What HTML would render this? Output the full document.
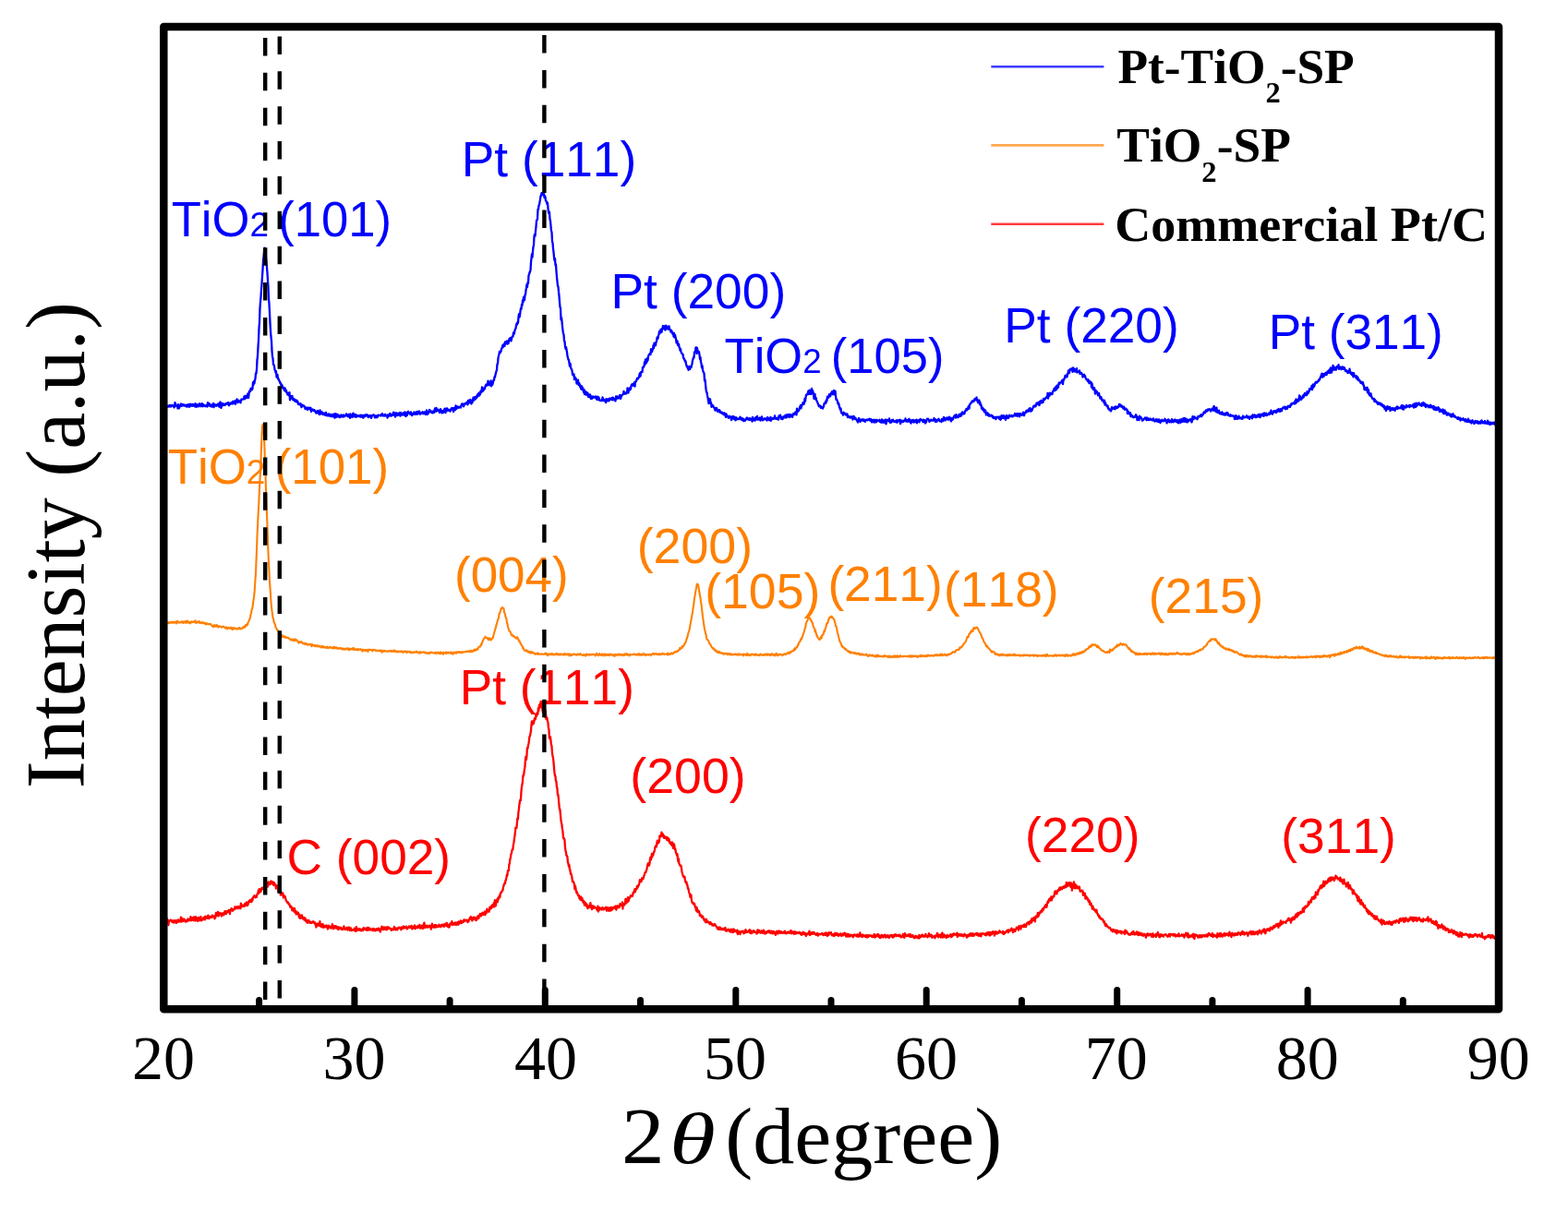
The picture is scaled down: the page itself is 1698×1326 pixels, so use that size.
<!DOCTYPE html>
<html><head><meta charset="utf-8"><title>XRD</title><style>html,body{margin:0;padding:0;background:#fff;width:1698px;height:1326px;overflow:hidden}</style></head><body>
<svg width="1698" height="1326" viewBox="0 0 1698 1326" style="display:block">
<rect width="1698" height="1326" fill="#fff"/>
<path d="M177.5,440.4 178.0,441.0 178.5,440.4 179.0,438.3 179.5,441.1 180.0,440.5 180.5,439.2 181.0,440.7 181.5,440.4 182.0,440.3 182.5,439.9 183.0,440.6 183.5,438.9 184.0,439.6 184.5,439.2 185.0,440.6 185.5,439.9 186.0,439.4 186.5,438.8 187.0,439.5 187.5,439.8 188.0,439.4 188.5,441.4 189.0,441.0 189.5,436.2 190.0,437.3 190.5,439.5 191.0,439.2 191.5,440.0 192.0,440.0 192.5,442.4 193.0,438.2 193.5,439.2 194.0,442.3 194.5,440.5 195.0,440.5 195.5,438.9 196.0,437.5 196.5,439.8 197.0,439.7 197.5,438.0 198.0,438.7 198.5,439.4 199.0,438.3 199.5,439.4 200.0,439.6 200.5,439.5 201.0,438.8 201.5,440.2 202.0,440.6 202.5,439.9 203.0,438.4 203.5,440.4 204.0,438.8 204.5,440.5 205.0,438.0 205.5,440.6 206.0,439.4 206.5,437.8 207.0,439.0 207.5,439.4 208.0,439.7 208.5,438.1 209.0,437.9 209.5,439.6 210.0,438.7 210.5,439.6 211.0,440.3 211.5,437.2 212.0,439.6 212.5,440.9 213.0,438.9 213.5,438.2 214.0,440.2 214.5,439.6 215.0,440.4 215.5,438.8 216.0,437.3 216.5,439.1 217.0,438.6 217.5,440.2 218.0,439.5 218.5,437.1 219.0,437.6 219.5,440.3 220.0,440.0 220.5,438.3 221.0,439.1 221.5,439.7 222.0,439.7 222.5,440.3 223.0,439.4 223.5,439.0 224.0,438.8 224.5,440.5 225.0,436.2 225.5,438.9 226.0,439.1 226.5,437.2 227.0,439.5 227.5,438.2 228.0,440.1 228.5,438.8 229.0,439.8 229.5,440.5 230.0,439.5 230.5,437.8 231.0,437.0 231.5,441.2 232.0,438.8 232.5,438.0 233.0,439.1 233.5,438.6 234.0,439.9 234.5,438.9 235.0,438.8 235.5,437.9 236.0,439.4 236.5,437.4 237.0,439.6 237.5,440.7 238.0,436.7 238.5,435.5 239.0,439.4 239.5,441.9 240.0,437.3 240.5,437.0 241.0,439.3 241.5,437.4 242.0,437.8 242.5,437.9 243.0,439.0 243.5,437.7 244.0,438.6 244.5,437.9 245.0,436.9 245.5,437.5 246.0,436.6 246.5,437.8 247.0,436.2 247.5,436.1 248.0,439.3 248.5,437.3 249.0,437.1 249.5,437.8 250.0,436.4 250.5,436.5 251.0,437.3 251.5,436.9 252.0,434.9 252.5,437.4 253.0,435.4 253.5,434.6 254.0,434.7 254.5,435.2 255.0,437.8 255.5,433.9 256.0,435.6 256.5,432.4 257.0,435.0 257.5,436.1 258.0,434.4 258.5,433.7 259.0,434.7 259.5,435.1 260.0,434.9 260.5,436.4 261.0,433.8 261.5,432.5 262.0,432.9 262.5,432.7 263.0,432.7 263.5,432.2 264.0,432.2 264.5,429.4 265.0,432.4 265.5,430.1 266.0,428.8 266.5,430.8 267.0,431.2 267.5,429.5 268.0,428.5 268.5,426.3 269.0,431.0 269.5,427.5 270.0,423.9 270.5,423.7 271.0,424.1 271.5,420.9 272.0,422.5 272.5,420.7 273.0,422.2 273.5,420.7 274.0,414.2 274.5,416.8 275.0,412.9 275.5,415.2 276.0,411.9 276.5,410.1 277.0,404.3 277.5,404.6 278.0,400.2 278.5,389.8 279.0,385.7 279.5,376.0 280.0,368.5 280.5,355.5 281.0,349.3 281.5,333.5 282.0,327.0 282.5,321.8 283.0,313.2 283.5,307.5 284.0,299.4 284.5,292.2 285.0,282.5 285.5,278.1 286.0,272.7 286.5,268.7 287.0,269.7 287.5,272.1 288.0,279.5 288.5,283.3 289.0,289.9 289.5,295.5 290.0,303.9 290.5,311.2 291.0,323.7 291.5,329.0 292.0,338.7 292.5,349.9 293.0,358.6 293.5,364.8 294.0,369.1 294.5,380.3 295.0,386.2 295.5,388.3 296.0,395.0 296.5,395.1 297.0,396.5 297.5,400.3 298.0,401.5 298.5,403.5 299.0,402.0 299.5,408.5 300.0,406.0 300.5,405.9 301.0,410.4 301.5,410.1 302.0,412.3 302.5,412.4 303.0,413.8 303.5,415.3 304.0,414.8 304.5,417.8 305.0,417.0 305.5,417.3 306.0,419.5 306.5,420.7 307.0,420.5 307.5,420.3 308.0,423.1 308.5,420.4 309.0,422.1 309.5,424.2 310.0,422.9 310.5,425.4 311.0,425.9 311.5,427.7 312.0,425.8 312.5,426.7 313.0,428.5 313.5,425.2 314.0,433.3 314.5,428.6 315.0,429.0 315.5,431.7 316.0,430.9 316.5,429.0 317.0,432.7 317.5,433.4 318.0,432.1 318.5,432.8 319.0,434.2 319.5,432.8 320.0,435.0 320.5,435.0 321.0,434.3 321.5,433.7 322.0,435.6 322.5,435.1 323.0,437.9 323.5,437.2 324.0,438.3 324.5,437.8 325.0,438.3 325.5,437.3 326.0,439.5 326.5,441.2 327.0,438.8 327.5,438.7 328.0,439.5 328.5,439.4 329.0,439.4 329.5,440.7 330.0,440.4 330.5,442.9 331.0,441.3 331.5,442.0 332.0,443.0 332.5,441.7 333.0,444.1 333.5,441.7 334.0,441.7 334.5,442.5 335.0,443.0 335.5,441.7 336.0,443.6 336.5,441.8 337.0,445.8 337.5,444.2 338.0,443.7 338.5,443.5 339.0,444.4 339.5,444.8 340.0,443.9 340.5,444.3 341.0,445.4 341.5,445.1 342.0,447.1 342.5,447.5 343.0,446.3 343.5,447.0 344.0,444.9 344.5,447.5 345.0,446.8 345.5,447.6 346.0,449.1 346.5,444.5 347.0,447.7 347.5,446.2 348.0,448.4 348.5,446.2 349.0,447.4 349.5,448.3 350.0,449.0 350.5,448.4 351.0,447.5 351.5,447.9 352.0,449.8 352.5,448.8 353.0,446.9 353.5,450.1 354.0,449.7 354.5,450.3 355.0,449.0 355.5,450.5 356.0,448.3 356.5,450.3 357.0,449.1 357.5,450.6 358.0,451.0 358.5,449.0 359.0,449.9 359.5,450.0 360.0,451.4 360.5,450.9 361.0,448.6 361.5,450.6 362.0,451.0 362.5,452.7 363.0,448.1 363.5,449.5 364.0,451.8 364.5,448.6 365.0,448.8 365.5,450.9 366.0,451.5 366.5,449.5 367.0,450.9 367.5,450.4 368.0,452.1 368.5,450.3 369.0,451.5 369.5,449.3 370.0,450.1 370.5,450.3 371.0,451.7 371.5,451.1 372.0,449.5 372.5,451.2 373.0,451.3 373.5,450.3 374.0,450.1 374.5,450.2 375.0,448.4 375.5,450.6 376.0,450.7 376.5,449.4 377.0,451.3 377.5,448.8 378.0,449.7 378.5,449.8 379.0,452.8 379.5,448.5 380.0,451.1 380.5,451.5 381.0,450.8 381.5,451.8 382.0,449.2 382.5,447.7 383.0,451.3 383.5,449.0 384.0,450.0 384.5,449.0 385.0,451.7 385.5,451.4 386.0,449.5 386.5,451.5 387.0,450.5 387.5,450.2 388.0,450.5 388.5,450.2 389.0,451.1 389.5,450.8 390.0,450.0 390.5,451.6 391.0,449.7 391.5,450.7 392.0,450.9 392.5,452.2 393.0,449.8 393.5,452.5 394.0,450.6 394.5,450.2 395.0,449.6 395.5,451.1 396.0,450.5 396.5,449.1 397.0,449.1 397.5,449.7 398.0,449.6 398.5,451.7 399.0,452.0 399.5,451.4 400.0,450.8 400.5,449.9 401.0,450.4 401.5,451.4 402.0,452.9 402.5,451.4 403.0,450.0 403.5,450.3 404.0,449.7 404.5,449.3 405.0,450.0 405.5,450.5 406.0,452.4 406.5,450.3 407.0,451.8 407.5,452.3 408.0,450.3 408.5,452.1 409.0,451.0 409.5,449.6 410.0,450.4 410.5,450.1 411.0,449.8 411.5,449.8 412.0,450.2 412.5,450.5 413.0,448.9 413.5,449.9 414.0,448.1 414.5,450.2 415.0,450.6 415.5,450.0 416.0,450.1 416.5,450.5 417.0,448.9 417.5,449.4 418.0,450.3 418.5,450.8 419.0,450.1 419.5,452.6 420.0,449.4 420.5,450.7 421.0,451.0 421.5,449.3 422.0,448.4 422.5,448.0 423.0,449.5 423.5,450.7 424.0,449.6 424.5,449.5 425.0,448.8 425.5,449.9 426.0,446.6 426.5,449.4 427.0,449.1 427.5,447.4 428.0,451.6 428.5,447.3 429.0,447.7 429.5,447.5 430.0,450.2 430.5,447.8 431.0,449.6 431.5,449.5 432.0,449.1 432.5,447.1 433.0,447.9 433.5,450.7 434.0,447.0 434.5,447.6 435.0,448.3 435.5,449.5 436.0,448.8 436.5,449.3 437.0,447.1 437.5,449.5 438.0,449.0 438.5,446.4 439.0,450.1 439.5,451.0 440.0,447.3 440.5,448.2 441.0,449.8 441.5,446.3 442.0,445.7 442.5,446.5 443.0,447.3 443.5,447.3 444.0,448.7 444.5,448.2 445.0,446.4 445.5,448.5 446.0,450.1 446.5,449.2 447.0,449.0 447.5,447.7 448.0,448.9 448.5,446.5 449.0,448.5 449.5,447.5 450.0,448.9 450.5,448.1 451.0,446.2 451.5,447.6 452.0,448.9 452.5,446.0 453.0,446.7 453.5,446.4 454.0,445.5 454.5,448.4 455.0,448.8 455.5,448.2 456.0,447.5 456.5,447.1 457.0,447.4 457.5,446.2 458.0,448.1 458.5,448.3 459.0,448.1 459.5,446.3 460.0,447.0 460.5,446.6 461.0,449.0 461.5,447.0 462.0,444.4 462.5,447.2 463.0,448.9 463.5,447.4 464.0,447.6 464.5,446.5 465.0,444.0 465.5,444.2 466.0,444.8 466.5,446.2 467.0,446.7 467.5,447.1 468.0,445.8 468.5,447.3 469.0,445.7 469.5,445.2 470.0,447.0 470.5,444.8 471.0,442.5 471.5,444.5 472.0,445.9 472.5,441.9 473.0,445.2 473.5,445.2 474.0,443.8 474.5,443.7 475.0,444.9 475.5,444.7 476.0,446.9 476.5,445.7 477.0,443.2 477.5,444.1 478.0,445.9 478.5,447.4 479.0,445.4 479.5,445.3 480.0,447.1 480.5,444.7 481.0,444.3 481.5,442.8 482.0,443.9 482.5,447.1 483.0,442.6 483.5,444.3 484.0,442.4 484.5,444.2 485.0,445.1 485.5,443.6 486.0,444.7 486.5,444.6 487.0,444.1 487.5,445.6 488.0,444.3 488.5,442.9 489.0,442.3 489.5,441.9 490.0,443.5 490.5,442.3 491.0,446.1 491.5,444.8 492.0,442.1 492.5,441.8 493.0,444.2 493.5,439.5 494.0,441.2 494.5,442.8 495.0,440.3 495.5,440.7 496.0,440.7 496.5,441.8 497.0,441.0 497.5,441.2 498.0,441.3 498.5,440.4 499.0,441.6 499.5,439.0 500.0,437.9 500.5,437.3 501.0,437.3 501.5,438.5 502.0,440.3 502.5,439.0 503.0,437.8 503.5,437.0 504.0,437.5 504.5,437.4 505.0,437.0 505.5,435.7 506.0,436.7 506.5,438.4 507.0,434.0 507.5,436.3 508.0,433.6 508.5,436.4 509.0,434.9 509.5,432.9 510.0,435.5 510.5,437.5 511.0,434.9 511.5,435.9 512.0,433.9 512.5,430.7 513.0,433.8 513.5,432.1 514.0,430.2 514.5,432.7 515.0,431.5 515.5,429.9 516.0,431.2 516.5,428.3 517.0,429.8 517.5,427.0 518.0,428.5 518.5,425.6 519.0,428.7 519.5,426.4 520.0,427.4 520.5,423.7 521.0,423.6 521.5,424.9 522.0,419.3 522.5,421.1 523.0,423.6 523.5,422.2 524.0,422.5 524.5,420.2 525.0,421.0 525.5,418.7 526.0,417.4 526.5,416.5 527.0,417.8 527.5,417.5 528.0,417.1 528.5,412.6 529.0,414.5 529.5,416.4 530.0,417.3 530.5,415.7 531.0,414.9 531.5,412.4 532.0,418.4 532.5,413.4 533.0,417.0 533.5,416.3 534.0,413.8 534.5,411.8 535.0,411.8 535.5,408.3 536.0,408.5 536.5,405.8 537.0,404.2 537.5,402.1 538.0,400.6 538.5,394.4 539.0,393.9 539.5,388.2 540.0,385.4 540.5,383.5 541.0,380.8 541.5,382.4 542.0,381.0 542.5,380.7 543.0,377.7 543.5,377.5 544.0,375.4 544.5,373.8 545.0,376.0 545.5,375.2 546.0,372.4 546.5,374.8 547.0,370.3 547.5,372.5 548.0,371.2 548.5,370.9 549.0,369.4 549.5,372.5 550.0,371.4 550.5,372.1 551.0,369.8 551.5,366.9 552.0,368.1 552.5,366.2 553.0,368.5 553.5,369.3 554.0,367.1 554.5,364.8 555.0,364.4 555.5,364.5 556.0,360.4 556.5,362.0 557.0,360.7 557.5,357.9 558.0,356.5 558.5,355.9 559.0,352.3 559.5,350.6 560.0,351.8 560.5,349.0 561.0,350.0 561.5,343.3 562.0,340.1 562.5,343.6 563.0,342.0 563.5,337.1 564.0,333.9 564.5,335.0 565.0,329.9 565.5,330.9 566.0,325.4 566.5,327.4 567.0,321.8 567.5,323.6 568.0,325.1 568.5,319.5 569.0,319.5 569.5,314.5 570.0,311.7 570.5,308.2 571.0,311.0 571.5,306.1 572.0,307.0 572.5,298.3 573.0,297.4 573.5,295.1 574.0,294.8 574.5,292.6 575.0,284.1 575.5,279.8 576.0,275.2 576.5,278.6 577.0,272.2 577.5,267.6 578.0,265.4 578.5,255.9 579.0,253.8 579.5,255.7 580.0,250.3 580.5,245.6 581.0,238.8 581.5,238.5 582.0,237.5 582.5,226.8 583.0,226.5 583.5,222.5 584.0,221.9 584.5,218.8 585.0,216.1 585.5,212.1 586.0,212.3 586.5,209.2 587.0,209.3 587.5,209.1 588.0,211.0 588.5,208.5 589.0,209.8 589.5,214.2 590.0,212.2 590.5,213.5 591.0,217.7 591.5,217.9 592.0,219.1 592.5,221.2 593.0,219.5 593.5,225.6 594.0,230.2 594.5,231.4 595.0,229.7 595.5,237.8 596.0,239.0 596.5,244.8 597.0,250.0 597.5,251.5 598.0,261.7 598.5,263.0 599.0,269.3 599.5,273.1 600.0,278.6 600.5,282.2 601.0,280.2 601.5,287.4 602.0,286.6 602.5,294.1 603.0,300.5 603.5,304.9 604.0,309.8 604.5,310.5 605.0,316.2 605.5,320.3 606.0,327.3 606.5,332.7 607.0,333.8 607.5,346.5 608.0,343.9 608.5,347.8 609.0,353.8 609.5,358.1 610.0,361.3 610.5,362.4 611.0,369.3 611.5,369.8 612.0,375.3 612.5,377.9 613.0,376.0 613.5,379.1 614.0,381.4 614.5,385.8 615.0,387.6 615.5,389.8 616.0,389.8 616.5,393.5 617.0,396.7 617.5,393.9 618.0,397.2 618.5,399.4 619.0,400.2 619.5,401.4 620.0,405.8 620.5,406.3 621.0,406.8 621.5,405.4 622.0,411.1 622.5,409.3 623.0,408.9 623.5,410.2 624.0,410.9 624.5,415.7 625.0,413.6 625.5,414.2 626.0,411.7 626.5,416.8 627.0,414.9 627.5,415.6 628.0,418.9 628.5,417.5 629.0,420.7 629.5,421.8 630.0,418.3 630.5,421.4 631.0,420.0 631.5,422.8 632.0,424.8 632.5,422.1 633.0,427.2 633.5,424.7 634.0,424.0 634.5,426.0 635.0,427.7 635.5,425.1 636.0,427.4 636.5,425.9 637.0,429.8 637.5,428.6 638.0,428.1 638.5,430.3 639.0,427.4 639.5,428.8 640.0,432.1 640.5,429.6 641.0,431.8 641.5,430.4 642.0,429.4 642.5,430.2 643.0,430.8 643.5,430.3 644.0,430.0 644.5,430.2 645.0,429.4 645.5,431.7 646.0,432.3 646.5,432.9 647.0,429.6 647.5,433.2 648.0,432.3 648.5,430.5 649.0,432.7 649.5,433.8 650.0,433.5 650.5,433.8 651.0,434.2 651.5,434.2 652.0,433.1 652.5,430.4 653.0,432.2 653.5,433.8 654.0,432.7 654.5,434.3 655.0,434.5 655.5,433.5 656.0,436.0 656.5,432.2 657.0,434.7 657.5,432.8 658.0,432.4 658.5,434.2 659.0,432.5 659.5,434.4 660.0,431.6 660.5,433.1 661.0,431.8 661.5,432.5 662.0,432.2 662.5,431.1 663.0,433.3 663.5,430.6 664.0,430.8 664.5,433.2 665.0,433.2 665.5,432.6 666.0,431.9 666.5,434.4 667.0,429.5 667.5,429.9 668.0,429.4 668.5,431.7 669.0,430.7 669.5,431.6 670.0,431.2 670.5,429.4 671.0,428.3 671.5,427.9 672.0,432.1 672.5,430.1 673.0,429.4 673.5,427.8 674.0,427.8 674.5,427.3 675.0,427.0 675.5,423.8 676.0,426.7 676.5,425.9 677.0,426.5 677.5,426.0 678.0,426.5 678.5,424.8 679.0,425.6 679.5,420.4 680.0,422.0 680.5,425.5 681.0,420.9 681.5,421.7 682.0,422.6 682.5,419.9 683.0,421.7 683.5,418.0 684.0,416.8 684.5,417.1 685.0,416.0 685.5,417.7 686.0,416.6 686.5,416.8 687.0,414.1 687.5,418.6 688.0,413.9 688.5,413.2 689.0,413.1 689.5,411.2 690.0,409.8 690.5,410.0 691.0,410.4 691.5,409.1 692.0,408.6 692.5,405.4 693.0,404.2 693.5,407.6 694.0,403.2 694.5,403.4 695.0,402.9 695.5,403.1 696.0,397.8 696.5,398.2 697.0,397.4 697.5,396.6 698.0,392.2 698.5,394.9 699.0,389.4 699.5,393.5 700.0,392.9 700.5,391.9 701.0,387.9 701.5,390.4 702.0,386.4 702.5,384.7 703.0,384.1 703.5,383.3 704.0,383.9 704.5,384.0 705.0,378.1 705.5,379.7 706.0,381.2 706.5,379.0 707.0,378.6 707.5,374.1 708.0,377.2 708.5,371.7 709.0,373.5 709.5,374.4 710.0,374.1 710.5,370.5 711.0,369.9 711.5,366.1 712.0,365.1 712.5,366.9 713.0,363.6 713.5,362.3 714.0,358.9 714.5,360.7 715.0,360.6 715.5,357.0 716.0,356.7 716.5,359.8 717.0,356.5 717.5,355.1 718.0,353.0 718.5,353.6 719.0,353.9 719.5,356.8 720.0,353.1 720.5,357.5 721.0,352.6 721.5,353.8 722.0,356.3 722.5,354.5 723.0,353.8 723.5,355.4 724.0,356.8 724.5,353.3 725.0,356.4 725.5,357.1 726.0,357.1 726.5,359.7 727.0,357.9 727.5,358.8 728.0,360.1 728.5,361.9 729.0,360.7 729.5,364.5 730.0,360.9 730.5,365.7 731.0,362.8 731.5,365.1 732.0,367.2 732.5,371.3 733.0,370.5 733.5,369.5 734.0,373.8 734.5,372.4 735.0,372.7 735.5,376.2 736.0,376.8 736.5,379.6 737.0,378.2 737.5,381.0 738.0,382.5 738.5,383.0 739.0,383.6 739.5,383.8 740.0,387.8 740.5,387.8 741.0,389.7 741.5,389.7 742.0,391.6 742.5,391.2 743.0,394.2 743.5,396.4 744.0,396.4 744.5,398.5 745.0,398.4 745.5,400.8 746.0,398.8 746.5,396.8 747.0,400.2 747.5,398.9 748.0,396.8 748.5,398.0 749.0,395.7 749.5,394.0 750.0,390.5 750.5,389.2 751.0,387.1 751.5,387.5 752.0,381.5 752.5,381.0 753.0,380.5 753.5,376.3 754.0,376.4 754.5,383.1 755.0,377.0 755.5,381.8 756.0,380.4 756.5,381.8 757.0,381.2 757.5,384.6 758.0,389.1 758.5,387.2 759.0,392.3 759.5,393.7 760.0,398.3 760.5,396.1 761.0,400.8 761.5,402.6 762.0,403.5 762.5,404.4 763.0,412.4 763.5,411.4 764.0,416.1 764.5,421.4 765.0,424.8 765.5,425.0 766.0,428.7 766.5,430.5 767.0,434.2 767.5,437.0 768.0,432.1 768.5,436.6 769.0,432.4 769.5,437.0 770.0,436.2 770.5,440.9 771.0,439.2 771.5,438.7 772.0,439.5 772.5,440.0 773.0,441.5 773.5,441.6 774.0,443.1 774.5,444.6 775.0,444.0 775.5,442.0 776.0,441.9 776.5,443.3 777.0,445.9 777.5,444.5 778.0,444.4 778.5,445.8 779.0,444.1 779.5,444.8 780.0,447.1 780.5,446.4 781.0,446.4 781.5,447.7 782.0,446.8 782.5,447.0 783.0,447.5 783.5,449.1 784.0,448.7 784.5,447.4 785.0,448.8 785.5,450.2 786.0,451.9 786.5,448.5 787.0,450.5 787.5,450.1 788.0,451.6 788.5,451.4 789.0,452.8 789.5,451.9 790.0,450.8 790.5,451.0 791.0,452.4 791.5,452.5 792.0,455.1 792.5,454.4 793.0,451.2 793.5,453.2 794.0,451.3 794.5,451.1 795.0,454.0 795.5,453.9 796.0,452.2 796.5,455.4 797.0,452.4 797.5,452.3 798.0,454.4 798.5,454.0 799.0,453.6 799.5,453.7 800.0,454.1 800.5,453.6 801.0,453.6 801.5,451.6 802.0,452.2 802.5,454.5 803.0,453.0 803.5,454.4 804.0,455.2 804.5,453.4 805.0,454.1 805.5,456.2 806.0,454.6 806.5,455.9 807.0,455.6 807.5,454.7 808.0,453.7 808.5,452.8 809.0,452.5 809.5,454.3 810.0,454.3 810.5,453.6 811.0,454.7 811.5,453.1 812.0,455.0 812.5,453.8 813.0,453.7 813.5,453.7 814.0,453.6 814.5,456.6 815.0,451.9 815.5,453.9 816.0,455.2 816.5,454.6 817.0,453.4 817.5,455.7 818.0,452.5 818.5,452.2 819.0,454.4 819.5,452.0 820.0,450.9 820.5,454.7 821.0,454.6 821.5,454.5 822.0,453.1 822.5,453.9 823.0,452.5 823.5,455.6 824.0,454.5 824.5,454.5 825.0,451.4 825.5,454.5 826.0,455.3 826.5,455.0 827.0,454.5 827.5,453.6 828.0,453.2 828.5,454.3 829.0,454.0 829.5,453.8 830.0,453.2 830.5,455.5 831.0,452.2 831.5,453.5 832.0,452.8 832.5,454.7 833.0,455.1 833.5,454.9 834.0,454.3 834.5,451.8 835.0,455.8 835.5,454.0 836.0,453.3 836.5,453.4 837.0,453.0 837.5,453.9 838.0,453.7 838.5,452.9 839.0,450.3 839.5,453.2 840.0,453.8 840.5,453.8 841.0,452.9 841.5,453.6 842.0,454.2 842.5,452.4 843.0,454.6 843.5,450.5 844.0,451.3 844.5,451.6 845.0,449.7 845.5,451.3 846.0,453.9 846.5,453.8 847.0,452.3 847.5,454.1 848.0,452.3 848.5,451.3 849.0,452.1 849.5,451.5 850.0,452.4 850.5,449.7 851.0,452.5 851.5,450.6 852.0,452.1 852.5,449.1 853.0,450.3 853.5,450.7 854.0,451.5 854.5,448.9 855.0,452.2 855.5,450.6 856.0,449.2 856.5,451.1 857.0,449.6 857.5,450.7 858.0,451.9 858.5,449.9 859.0,448.1 859.5,448.1 860.0,449.0 860.5,448.4 861.0,446.7 861.5,446.5 862.0,447.7 862.5,449.3 863.0,442.7 863.5,446.4 864.0,444.7 864.5,445.3 865.0,444.9 865.5,443.3 866.0,441.3 866.5,440.2 867.0,438.9 867.5,442.3 868.0,439.8 868.5,438.7 869.0,438.4 869.5,436.2 870.0,437.5 870.5,437.8 871.0,436.5 871.5,431.8 872.0,434.6 872.5,430.6 873.0,427.9 873.5,427.7 874.0,427.0 874.5,427.3 875.0,424.9 875.5,423.4 876.0,424.4 876.5,426.9 877.0,422.7 877.5,424.1 878.0,423.4 878.5,427.2 879.0,421.0 879.5,425.7 880.0,423.0 880.5,424.7 881.0,426.3 881.5,431.8 882.0,427.4 882.5,427.0 883.0,432.5 883.5,430.8 884.0,432.8 884.5,434.2 885.0,435.5 885.5,436.3 886.0,437.9 886.5,439.0 887.0,440.4 887.5,439.4 888.0,439.6 888.5,439.6 889.0,441.9 889.5,441.1 890.0,441.8 890.5,441.5 891.0,442.6 891.5,440.3 892.0,440.4 892.5,437.3 893.0,436.7 893.5,437.0 894.0,435.0 894.5,436.6 895.0,433.1 895.5,434.0 896.0,429.7 896.5,430.6 897.0,430.8 897.5,430.0 898.0,427.1 898.5,428.9 899.0,429.3 899.5,428.2 900.0,425.8 900.5,425.4 901.0,424.1 901.5,426.3 902.0,427.3 902.5,424.5 903.0,423.0 903.5,426.1 904.0,427.5 904.5,423.7 905.0,428.8 905.5,432.9 906.0,432.5 906.5,433.7 907.0,435.1 907.5,437.6 908.0,436.6 908.5,438.3 909.0,441.5 909.5,441.5 910.0,444.0 910.5,442.5 911.0,446.7 911.5,447.6 912.0,447.0 912.5,447.5 913.0,449.7 913.5,446.7 914.0,447.3 914.5,447.4 915.0,448.5 915.5,448.1 916.0,449.6 916.5,449.1 917.0,448.4 917.5,448.6 918.0,452.1 918.5,450.8 919.0,450.9 919.5,451.4 920.0,451.5 920.5,452.7 921.0,452.7 921.5,451.5 922.0,451.4 922.5,451.3 923.0,451.3 923.5,454.5 924.0,452.0 924.5,450.9 925.0,452.4 925.5,452.6 926.0,454.0 926.5,452.7 927.0,454.4 927.5,454.4 928.0,455.5 928.5,456.6 929.0,457.5 929.5,455.8 930.0,453.0 930.5,453.9 931.0,454.7 931.5,456.8 932.0,455.3 932.5,455.9 933.0,454.4 933.5,455.3 934.0,455.5 934.5,454.2 935.0,455.7 935.5,456.1 936.0,454.7 936.5,456.1 937.0,456.8 937.5,455.1 938.0,455.0 938.5,454.7 939.0,454.4 939.5,455.3 940.0,454.7 940.5,454.9 941.0,454.4 941.5,453.6 942.0,454.3 942.5,455.8 943.0,454.1 943.5,454.7 944.0,457.4 944.5,456.8 945.0,454.8 945.5,456.3 946.0,454.9 946.5,457.5 947.0,455.0 947.5,455.8 948.0,457.3 948.5,454.8 949.0,457.3 949.5,454.9 950.0,456.1 950.5,455.5 951.0,455.8 951.5,456.1 952.0,455.8 952.5,454.8 953.0,457.0 953.5,456.8 954.0,457.5 954.5,457.6 955.0,454.5 955.5,457.5 956.0,457.6 956.5,455.5 957.0,457.3 957.5,457.8 958.0,455.5 958.5,454.6 959.0,455.8 959.5,459.3 960.0,456.5 960.5,454.8 961.0,455.9 961.5,455.1 962.0,455.8 962.5,456.4 963.0,453.4 963.5,456.7 964.0,457.9 964.5,456.1 965.0,455.8 965.5,457.5 966.0,454.9 966.5,454.9 967.0,454.7 967.5,456.1 968.0,456.7 968.5,456.2 969.0,456.9 969.5,457.2 970.0,456.9 970.5,455.4 971.0,456.0 971.5,457.7 972.0,455.1 972.5,456.0 973.0,455.8 973.5,456.1 974.0,455.1 974.5,454.8 975.0,459.2 975.5,457.3 976.0,455.5 976.5,456.2 977.0,457.0 977.5,455.9 978.0,457.0 978.5,455.6 979.0,455.8 979.5,456.1 980.0,455.7 980.5,453.4 981.0,456.2 981.5,456.5 982.0,456.7 982.5,455.1 983.0,456.6 983.5,456.4 984.0,454.2 984.5,453.7 985.0,456.7 985.5,455.1 986.0,457.3 986.5,458.6 987.0,455.5 987.5,455.3 988.0,456.1 988.5,456.8 989.0,454.8 989.5,457.5 990.0,457.2 990.5,456.8 991.0,455.4 991.5,457.1 992.0,457.0 992.5,454.6 993.0,458.3 993.5,455.6 994.0,456.4 994.5,455.3 995.0,456.4 995.5,457.2 996.0,455.0 996.5,454.0 997.0,455.3 997.5,454.4 998.0,455.0 998.5,455.7 999.0,455.7 999.5,457.2 1000.0,454.6 1000.5,456.1 1001.0,455.1 1001.5,457.2 1002.0,458.5 1002.5,456.0 1003.0,457.5 1003.5,455.0 1004.0,453.8 1004.5,454.1 1005.0,453.7 1005.5,454.4 1006.0,455.2 1006.5,456.8 1007.0,456.3 1007.5,456.0 1008.0,454.9 1008.5,454.6 1009.0,455.4 1009.5,455.5 1010.0,455.6 1010.5,455.7 1011.0,455.1 1011.5,453.0 1012.0,453.9 1012.5,454.2 1013.0,457.1 1013.5,454.6 1014.0,455.9 1014.5,456.7 1015.0,455.4 1015.5,454.6 1016.0,454.7 1016.5,453.8 1017.0,455.3 1017.5,456.2 1018.0,455.5 1018.5,455.7 1019.0,455.6 1019.5,457.1 1020.0,454.0 1020.5,454.9 1021.0,455.5 1021.5,456.1 1022.0,451.8 1022.5,454.0 1023.0,454.3 1023.5,453.3 1024.0,455.4 1024.5,454.7 1025.0,453.9 1025.5,452.5 1026.0,452.8 1026.5,453.1 1027.0,454.7 1027.5,452.7 1028.0,451.6 1028.5,452.2 1029.0,453.1 1029.5,455.6 1030.0,456.4 1030.5,452.8 1031.0,454.3 1031.5,454.7 1032.0,454.3 1032.5,452.5 1033.0,451.0 1033.5,451.7 1034.0,449.9 1034.5,452.2 1035.0,452.6 1035.5,449.2 1036.0,451.1 1036.5,451.3 1037.0,452.2 1037.5,452.1 1038.0,451.2 1038.5,449.1 1039.0,449.2 1039.5,450.9 1040.0,448.4 1040.5,448.8 1041.0,450.5 1041.5,448.5 1042.0,446.4 1042.5,447.4 1043.0,448.2 1043.5,446.9 1044.0,448.3 1044.5,448.1 1045.0,445.3 1045.5,445.0 1046.0,444.9 1046.5,442.9 1047.0,444.3 1047.5,442.9 1048.0,443.4 1048.5,441.0 1049.0,439.9 1049.5,442.6 1050.0,438.4 1050.5,438.0 1051.0,437.1 1051.5,436.9 1052.0,435.4 1052.5,435.9 1053.0,434.4 1053.5,434.2 1054.0,434.8 1054.5,434.8 1055.0,434.1 1055.5,432.1 1056.0,433.4 1056.5,432.6 1057.0,432.6 1057.5,430.5 1058.0,433.9 1058.5,433.2 1059.0,436.1 1059.5,435.2 1060.0,433.5 1060.5,433.9 1061.0,438.1 1061.5,436.2 1062.0,439.1 1062.5,438.7 1063.0,442.7 1063.5,441.0 1064.0,443.6 1064.5,444.2 1065.0,442.7 1065.5,443.5 1066.0,446.4 1066.5,445.0 1067.0,444.4 1067.5,447.4 1068.0,449.5 1068.5,446.8 1069.0,449.0 1069.5,447.6 1070.0,449.9 1070.5,448.4 1071.0,450.7 1071.5,450.2 1072.0,449.7 1072.5,450.6 1073.0,450.0 1073.5,449.7 1074.0,450.1 1074.5,451.5 1075.0,450.6 1075.5,452.6 1076.0,452.9 1076.5,453.0 1077.0,451.9 1077.5,452.6 1078.0,452.5 1078.5,454.1 1079.0,451.6 1079.5,452.1 1080.0,452.3 1080.5,452.4 1081.0,451.6 1081.5,451.7 1082.0,453.6 1082.5,451.7 1083.0,453.5 1083.5,454.7 1084.0,453.8 1084.5,450.2 1085.0,453.1 1085.5,452.7 1086.0,452.8 1086.5,450.2 1087.0,452.9 1087.5,450.7 1088.0,453.4 1088.5,453.1 1089.0,454.8 1089.5,451.3 1090.0,449.9 1090.5,452.8 1091.0,452.5 1091.5,451.0 1092.0,453.0 1092.5,452.1 1093.0,449.7 1093.5,450.7 1094.0,450.5 1094.5,450.9 1095.0,451.1 1095.5,450.0 1096.0,450.5 1096.5,451.4 1097.0,450.5 1097.5,450.2 1098.0,450.0 1098.5,450.2 1099.0,448.0 1099.5,450.3 1100.0,448.8 1100.5,450.1 1101.0,448.1 1101.5,450.9 1102.0,450.0 1102.5,448.0 1103.0,449.7 1103.5,448.4 1104.0,451.4 1104.5,449.7 1105.0,448.0 1105.5,449.1 1106.0,448.6 1106.5,449.9 1107.0,448.8 1107.5,448.8 1108.0,446.6 1108.5,448.8 1109.0,450.2 1109.5,448.2 1110.0,447.1 1110.5,447.1 1111.0,445.5 1111.5,446.6 1112.0,444.7 1112.5,445.8 1113.0,445.0 1113.5,444.1 1114.0,445.5 1114.5,442.6 1115.0,444.1 1115.5,442.1 1116.0,445.7 1116.5,445.5 1117.0,443.7 1117.5,444.7 1118.0,442.7 1118.5,442.2 1119.0,440.6 1119.5,439.7 1120.0,440.6 1120.5,439.4 1121.0,439.2 1121.5,440.3 1122.0,438.9 1122.5,436.7 1123.0,438.1 1123.5,437.0 1124.0,437.3 1124.5,435.9 1125.0,438.5 1125.5,439.1 1126.0,434.8 1126.5,436.8 1127.0,436.4 1127.5,433.8 1128.0,435.0 1128.5,436.4 1129.0,435.3 1129.5,435.9 1130.0,431.8 1130.5,432.0 1131.0,433.0 1131.5,432.7 1132.0,431.9 1132.5,430.9 1133.0,430.5 1133.5,429.8 1134.0,430.9 1134.5,426.0 1135.0,431.6 1135.5,428.2 1136.0,426.5 1136.5,428.8 1137.0,425.7 1137.5,427.7 1138.0,426.1 1138.5,427.0 1139.0,426.8 1139.5,427.0 1140.0,423.9 1140.5,423.7 1141.0,423.5 1141.5,421.0 1142.0,423.3 1142.5,422.0 1143.0,419.4 1143.5,422.4 1144.0,422.1 1144.5,417.6 1145.0,419.8 1145.5,420.2 1146.0,419.0 1146.5,415.7 1147.0,414.5 1147.5,415.8 1148.0,414.6 1148.5,414.7 1149.0,414.0 1149.5,414.3 1150.0,412.1 1150.5,412.1 1151.0,416.2 1151.5,411.0 1152.0,411.7 1152.5,410.3 1153.0,409.5 1153.5,407.0 1154.0,408.5 1154.5,406.8 1155.0,407.3 1155.5,408.4 1156.0,404.8 1156.5,404.9 1157.0,401.4 1157.5,402.5 1158.0,404.1 1158.5,401.0 1159.0,399.7 1159.5,400.6 1160.0,399.7 1160.5,399.4 1161.0,399.1 1161.5,402.9 1162.0,398.4 1162.5,399.3 1163.0,399.1 1163.5,402.2 1164.0,400.0 1164.5,402.7 1165.0,401.1 1165.5,401.1 1166.0,399.1 1166.5,403.6 1167.0,402.9 1167.5,403.0 1168.0,402.5 1168.5,402.4 1169.0,401.4 1169.5,405.2 1170.0,404.5 1170.5,403.9 1171.0,403.8 1171.5,405.3 1172.0,405.4 1172.5,408.5 1173.0,407.7 1173.5,406.0 1174.0,405.8 1174.5,407.6 1175.0,407.1 1175.5,409.2 1176.0,410.3 1176.5,411.2 1177.0,411.5 1177.5,411.2 1178.0,413.0 1178.5,411.3 1179.0,413.2 1179.5,415.1 1180.0,415.0 1180.5,413.3 1181.0,414.1 1181.5,414.0 1182.0,419.6 1182.5,415.3 1183.0,418.0 1183.5,421.5 1184.0,421.1 1184.5,422.1 1185.0,420.1 1185.5,422.6 1186.0,426.6 1186.5,422.8 1187.0,424.2 1187.5,423.8 1188.0,425.0 1188.5,426.2 1189.0,428.3 1189.5,425.8 1190.0,425.8 1190.5,428.5 1191.0,429.4 1191.5,431.7 1192.0,431.4 1192.5,430.2 1193.0,432.5 1193.5,433.9 1194.0,433.5 1194.5,433.4 1195.0,435.5 1195.5,434.9 1196.0,433.7 1196.5,438.7 1197.0,436.1 1197.5,438.1 1198.0,438.9 1198.5,439.6 1199.0,440.3 1199.5,439.4 1200.0,442.5 1200.5,442.3 1201.0,442.7 1201.5,444.3 1202.0,444.5 1202.5,444.8 1203.0,445.4 1203.5,443.6 1204.0,441.1 1204.5,443.2 1205.0,442.8 1205.5,442.7 1206.0,441.7 1206.5,441.2 1207.0,443.2 1207.5,443.2 1208.0,440.4 1208.5,442.3 1209.0,441.2 1209.5,440.7 1210.0,441.9 1210.5,440.8 1211.0,440.1 1211.5,440.7 1212.0,438.0 1212.5,439.7 1213.0,439.8 1213.5,438.5 1214.0,440.6 1214.5,440.7 1215.0,439.8 1215.5,440.5 1216.0,441.8 1216.5,442.6 1217.0,440.7 1217.5,442.5 1218.0,443.8 1218.5,442.9 1219.0,442.5 1219.5,443.0 1220.0,444.1 1220.5,443.7 1221.0,448.0 1221.5,445.4 1222.0,447.1 1222.5,447.4 1223.0,448.4 1223.5,447.7 1224.0,447.1 1224.5,451.0 1225.0,449.4 1225.5,450.0 1226.0,450.4 1226.5,451.9 1227.0,451.5 1227.5,452.2 1228.0,451.9 1228.5,451.3 1229.0,451.6 1229.5,450.6 1230.0,449.3 1230.5,451.5 1231.0,450.6 1231.5,455.1 1232.0,454.0 1232.5,453.7 1233.0,451.8 1233.5,455.0 1234.0,450.7 1234.5,451.5 1235.0,452.1 1235.5,452.0 1236.0,453.4 1236.5,453.6 1237.0,455.7 1237.5,454.7 1238.0,455.1 1238.5,454.3 1239.0,453.7 1239.5,453.2 1240.0,452.4 1240.5,453.2 1241.0,453.8 1241.5,455.2 1242.0,452.5 1242.5,453.0 1243.0,454.9 1243.5,453.5 1244.0,455.1 1244.5,454.3 1245.0,454.0 1245.5,453.4 1246.0,454.9 1246.5,454.2 1247.0,454.4 1247.5,454.4 1248.0,455.4 1248.5,455.4 1249.0,453.3 1249.5,455.1 1250.0,455.8 1250.5,456.5 1251.0,456.3 1251.5,455.7 1252.0,454.1 1252.5,454.6 1253.0,456.5 1253.5,454.7 1254.0,456.7 1254.5,457.0 1255.0,454.4 1255.5,456.1 1256.0,455.5 1256.5,458.0 1257.0,456.7 1257.5,455.2 1258.0,456.2 1258.5,454.8 1259.0,455.6 1259.5,456.1 1260.0,456.0 1260.5,456.2 1261.0,454.9 1261.5,453.8 1262.0,455.5 1262.5,455.0 1263.0,455.2 1263.5,458.4 1264.0,457.3 1264.5,455.8 1265.0,454.4 1265.5,454.6 1266.0,456.5 1266.5,457.3 1267.0,455.8 1267.5,456.3 1268.0,456.4 1268.5,457.4 1269.0,454.1 1269.5,456.4 1270.0,456.7 1270.5,457.3 1271.0,456.7 1271.5,455.0 1272.0,455.6 1272.5,454.5 1273.0,456.5 1273.5,456.5 1274.0,456.9 1274.5,455.2 1275.0,455.0 1275.5,458.0 1276.0,456.5 1276.5,458.3 1277.0,456.8 1277.5,454.6 1278.0,457.2 1278.5,457.7 1279.0,455.8 1279.5,454.1 1280.0,457.0 1280.5,456.0 1281.0,456.5 1281.5,453.1 1282.0,456.6 1282.5,452.9 1283.0,454.9 1283.5,456.9 1284.0,453.7 1284.5,453.6 1285.0,455.1 1285.5,457.4 1286.0,457.3 1286.5,454.6 1287.0,456.3 1287.5,455.7 1288.0,455.3 1288.5,455.3 1289.0,453.9 1289.5,455.5 1290.0,455.7 1290.5,457.4 1291.0,455.3 1291.5,451.2 1292.0,452.5 1292.5,454.2 1293.0,453.7 1293.5,451.3 1294.0,453.2 1294.5,452.8 1295.0,453.0 1295.5,452.7 1296.0,453.8 1296.5,454.3 1297.0,453.2 1297.5,450.9 1298.0,450.9 1298.5,450.9 1299.0,451.3 1299.5,450.6 1300.0,450.3 1300.5,449.2 1301.0,451.1 1301.5,450.6 1302.0,450.3 1302.5,448.6 1303.0,448.8 1303.5,446.7 1304.0,446.2 1304.5,446.3 1305.0,447.3 1305.5,446.0 1306.0,444.4 1306.5,445.5 1307.0,445.5 1307.5,444.9 1308.0,443.5 1308.5,444.2 1309.0,443.3 1309.5,443.2 1310.0,443.3 1310.5,444.2 1311.0,445.5 1311.5,445.1 1312.0,443.9 1312.5,442.6 1313.0,442.8 1313.5,442.9 1314.0,444.8 1314.5,440.0 1315.0,443.9 1315.5,441.3 1316.0,444.0 1316.5,445.8 1317.0,443.2 1317.5,441.7 1318.0,446.4 1318.5,446.9 1319.0,445.9 1319.5,447.0 1320.0,444.7 1320.5,447.4 1321.0,448.3 1321.5,447.2 1322.0,447.0 1322.5,448.4 1323.0,448.5 1323.5,446.4 1324.0,449.1 1324.5,448.5 1325.0,448.0 1325.5,449.5 1326.0,449.2 1326.5,449.2 1327.0,447.8 1327.5,449.6 1328.0,447.4 1328.5,448.8 1329.0,447.0 1329.5,447.2 1330.0,449.9 1330.5,449.5 1331.0,449.8 1331.5,450.6 1332.0,450.5 1332.5,449.2 1333.0,450.5 1333.5,450.5 1334.0,450.1 1334.5,450.7 1335.0,450.6 1335.5,450.4 1336.0,450.9 1336.5,451.7 1337.0,454.0 1337.5,450.7 1338.0,452.4 1338.5,450.2 1339.0,453.9 1339.5,451.7 1340.0,452.3 1340.5,453.7 1341.0,453.5 1341.5,450.6 1342.0,453.1 1342.5,452.2 1343.0,453.2 1343.5,452.7 1344.0,453.4 1344.5,452.8 1345.0,452.3 1345.5,453.9 1346.0,450.7 1346.5,451.9 1347.0,451.3 1347.5,452.2 1348.0,451.9 1348.5,452.2 1349.0,451.7 1349.5,451.7 1350.0,450.3 1350.5,452.2 1351.0,452.5 1351.5,451.4 1352.0,451.3 1352.5,451.3 1353.0,453.9 1353.5,452.1 1354.0,452.3 1354.5,451.4 1355.0,451.1 1355.5,450.6 1356.0,453.4 1356.5,449.5 1357.0,451.8 1357.5,451.4 1358.0,451.0 1358.5,449.4 1359.0,449.7 1359.5,452.2 1360.0,450.2 1360.5,452.0 1361.0,451.6 1361.5,451.4 1362.0,451.6 1362.5,449.1 1363.0,449.9 1363.5,451.2 1364.0,448.8 1364.5,452.2 1365.0,449.4 1365.5,449.9 1366.0,448.7 1366.5,450.3 1367.0,448.8 1367.5,449.3 1368.0,448.2 1368.5,450.9 1369.0,447.4 1369.5,449.8 1370.0,449.4 1370.5,449.5 1371.0,447.7 1371.5,450.1 1372.0,449.9 1372.5,448.8 1373.0,448.9 1373.5,448.2 1374.0,449.1 1374.5,447.2 1375.0,448.7 1375.5,448.4 1376.0,446.1 1376.5,444.5 1377.0,447.4 1377.5,447.2 1378.0,448.7 1378.5,447.1 1379.0,446.3 1379.5,445.1 1380.0,446.5 1380.5,445.7 1381.0,444.9 1381.5,445.9 1382.0,447.2 1382.5,445.9 1383.0,444.3 1383.5,445.8 1384.0,443.8 1384.5,443.0 1385.0,445.4 1385.5,443.9 1386.0,445.8 1386.5,444.6 1387.0,443.0 1387.5,444.0 1388.0,445.2 1388.5,443.1 1389.0,441.8 1389.5,442.1 1390.0,441.6 1390.5,440.9 1391.0,440.6 1391.5,442.5 1392.0,443.2 1392.5,441.0 1393.0,442.3 1393.5,442.2 1394.0,442.9 1394.5,440.3 1395.0,439.8 1395.5,440.6 1396.0,439.9 1396.5,439.9 1397.0,440.9 1397.5,438.4 1398.0,439.0 1398.5,437.2 1399.0,438.0 1399.5,437.0 1400.0,436.7 1400.5,437.1 1401.0,436.5 1401.5,437.2 1402.0,437.5 1402.5,434.1 1403.0,437.1 1403.5,432.5 1404.0,435.4 1404.5,435.6 1405.0,433.5 1405.5,433.6 1406.0,432.5 1406.5,434.4 1407.0,428.5 1407.5,431.1 1408.0,429.4 1408.5,431.8 1409.0,432.9 1409.5,432.3 1410.0,431.2 1410.5,430.2 1411.0,428.4 1411.5,430.7 1412.0,429.4 1412.5,426.9 1413.0,425.9 1413.5,426.3 1414.0,428.2 1414.5,428.0 1415.0,428.1 1415.5,424.2 1416.0,424.4 1416.5,426.3 1417.0,424.2 1417.5,424.5 1418.0,421.1 1418.5,422.0 1419.0,422.0 1419.5,421.0 1420.0,420.4 1420.5,418.0 1421.0,422.2 1421.5,419.4 1422.0,416.5 1422.5,419.6 1423.0,417.5 1423.5,417.8 1424.0,415.8 1424.5,414.3 1425.0,413.7 1425.5,414.7 1426.0,414.7 1426.5,413.6 1427.0,413.2 1427.5,413.4 1428.0,411.5 1428.5,411.9 1429.0,411.5 1429.5,409.7 1430.0,408.6 1430.5,407.5 1431.0,405.8 1431.5,404.8 1432.0,408.7 1432.5,406.3 1433.0,405.0 1433.5,407.9 1434.0,406.7 1434.5,404.9 1435.0,406.0 1435.5,403.8 1436.0,404.3 1436.5,406.2 1437.0,404.7 1437.5,402.3 1438.0,403.5 1438.5,403.9 1439.0,401.5 1439.5,400.7 1440.0,404.0 1440.5,400.3 1441.0,398.4 1441.5,400.4 1442.0,403.5 1442.5,400.7 1443.0,400.9 1443.5,395.8 1444.0,398.1 1444.5,400.7 1445.0,398.0 1445.5,400.5 1446.0,399.0 1446.5,398.8 1447.0,400.7 1447.5,397.1 1448.0,397.1 1448.5,398.0 1449.0,398.2 1449.5,395.1 1450.0,399.8 1450.5,398.3 1451.0,397.7 1451.5,399.1 1452.0,397.6 1452.5,400.2 1453.0,398.6 1453.5,399.8 1454.0,397.4 1454.5,398.6 1455.0,399.8 1455.5,398.0 1456.0,398.7 1456.5,399.9 1457.0,402.0 1457.5,401.7 1458.0,402.2 1458.5,401.5 1459.0,402.8 1459.5,404.1 1460.0,402.2 1460.5,402.9 1461.0,403.5 1461.5,399.7 1462.0,403.0 1462.5,404.1 1463.0,405.0 1463.5,403.6 1464.0,406.0 1464.5,403.9 1465.0,405.0 1465.5,408.3 1466.0,404.1 1466.5,406.5 1467.0,406.9 1467.5,407.5 1468.0,407.3 1468.5,409.6 1469.0,407.6 1469.5,407.7 1470.0,411.0 1470.5,409.0 1471.0,412.0 1471.5,412.0 1472.0,411.5 1472.5,412.6 1473.0,413.5 1473.5,414.9 1474.0,413.9 1474.5,415.0 1475.0,413.8 1475.5,416.1 1476.0,414.3 1476.5,417.7 1477.0,417.7 1477.5,422.1 1478.0,421.6 1478.5,420.2 1479.0,422.4 1479.5,422.2 1480.0,420.8 1480.5,419.7 1481.0,425.4 1481.5,425.1 1482.0,422.5 1482.5,426.9 1483.0,427.9 1483.5,426.4 1484.0,429.1 1484.5,426.3 1485.0,429.0 1485.5,430.0 1486.0,431.6 1486.5,431.7 1487.0,432.0 1487.5,433.0 1488.0,431.9 1488.5,435.2 1489.0,433.2 1489.5,435.2 1490.0,434.5 1490.5,434.6 1491.0,436.1 1491.5,436.3 1492.0,437.8 1492.5,437.9 1493.0,436.1 1493.5,437.9 1494.0,437.8 1494.5,437.0 1495.0,437.0 1495.5,439.1 1496.0,438.5 1496.5,437.7 1497.0,439.7 1497.5,440.5 1498.0,440.6 1498.5,439.3 1499.0,440.4 1499.5,443.1 1500.0,440.6 1500.5,441.5 1501.0,445.0 1501.5,442.7 1502.0,441.8 1502.5,440.2 1503.0,443.1 1503.5,441.1 1504.0,442.9 1504.5,441.9 1505.0,440.9 1505.5,445.1 1506.0,442.9 1506.5,444.1 1507.0,443.9 1507.5,442.0 1508.0,443.0 1508.5,442.4 1509.0,444.0 1509.5,443.3 1510.0,442.3 1510.5,444.8 1511.0,443.3 1511.5,443.1 1512.0,441.5 1512.5,442.9 1513.0,440.5 1513.5,442.8 1514.0,441.0 1514.5,442.3 1515.0,441.7 1515.5,442.2 1516.0,442.3 1516.5,441.7 1517.0,441.6 1517.5,439.7 1518.0,439.1 1518.5,443.0 1519.0,442.1 1519.5,439.4 1520.0,443.6 1520.5,440.2 1521.0,441.7 1521.5,441.5 1522.0,441.0 1522.5,441.6 1523.0,439.0 1523.5,440.6 1524.0,440.2 1524.5,440.5 1525.0,440.0 1525.5,439.4 1526.0,439.2 1526.5,441.1 1527.0,438.8 1527.5,440.2 1528.0,440.1 1528.5,439.4 1529.0,440.0 1529.5,440.0 1530.0,438.5 1530.5,439.5 1531.0,441.5 1531.5,437.5 1532.0,438.4 1532.5,437.7 1533.0,441.2 1533.5,436.7 1534.0,438.5 1534.5,439.6 1535.0,437.2 1535.5,438.1 1536.0,437.4 1536.5,436.5 1537.0,438.1 1537.5,438.8 1538.0,437.7 1538.5,438.4 1539.0,439.1 1539.5,439.8 1540.0,436.7 1540.5,439.2 1541.0,437.6 1541.5,436.1 1542.0,437.6 1542.5,439.5 1543.0,439.2 1543.5,437.5 1544.0,441.1 1544.5,439.7 1545.0,439.2 1545.5,438.7 1546.0,440.1 1546.5,439.2 1547.0,441.3 1547.5,440.4 1548.0,441.0 1548.5,440.0 1549.0,438.6 1549.5,441.4 1550.0,439.6 1550.5,440.9 1551.0,441.2 1551.5,440.4 1552.0,442.6 1552.5,439.9 1553.0,443.7 1553.5,441.3 1554.0,443.4 1554.5,444.0 1555.0,441.4 1555.5,441.8 1556.0,444.1 1556.5,443.3 1557.0,443.4 1557.5,441.2 1558.0,441.7 1558.5,444.6 1559.0,446.0 1559.5,443.6 1560.0,443.6 1560.5,445.2 1561.0,445.7 1561.5,446.1 1562.0,445.1 1562.5,443.5 1563.0,447.9 1563.5,445.8 1564.0,448.2 1564.5,444.5 1565.0,447.6 1565.5,446.8 1566.0,446.4 1566.5,449.1 1567.0,449.7 1567.5,447.7 1568.0,449.4 1568.5,447.6 1569.0,448.4 1569.5,449.1 1570.0,449.2 1570.5,450.6 1571.0,448.6 1571.5,451.4 1572.0,451.5 1572.5,450.3 1573.0,449.4 1573.5,448.2 1574.0,451.1 1574.5,450.5 1575.0,451.6 1575.5,450.5 1576.0,451.9 1576.5,452.0 1577.0,452.3 1577.5,452.8 1578.0,453.0 1578.5,453.9 1579.0,452.1 1579.5,454.0 1580.0,453.5 1580.5,453.0 1581.0,452.6 1581.5,455.5 1582.0,454.3 1582.5,453.6 1583.0,454.5 1583.5,454.5 1584.0,454.1 1584.5,453.3 1585.0,455.2 1585.5,454.9 1586.0,455.0 1586.5,456.5 1587.0,454.1 1587.5,454.6 1588.0,456.0 1588.5,456.8 1589.0,456.7 1589.5,456.9 1590.0,453.7 1590.5,456.8 1591.0,456.8 1591.5,457.2 1592.0,455.7 1592.5,457.1 1593.0,457.7 1593.5,458.5 1594.0,457.0 1594.5,455.3 1595.0,456.9 1595.5,457.6 1596.0,457.5 1596.5,459.1 1597.0,456.8 1597.5,456.0 1598.0,456.5 1598.5,457.9 1599.0,456.4 1599.5,456.2 1600.0,456.4 1600.5,458.7 1601.0,457.7 1601.5,457.1 1602.0,458.5 1602.5,458.4 1603.0,456.6 1603.5,458.6 1604.0,458.0 1604.5,455.5 1605.0,456.5 1605.5,458.1 1606.0,458.4 1606.5,457.6 1607.0,456.9 1607.5,458.3 1608.0,456.0 1608.5,458.7 1609.0,457.9 1609.5,458.1 1610.0,457.5 1610.5,459.1 1611.0,455.7 1611.5,457.3 1612.0,458.9 1612.5,457.5 1613.0,459.9 1613.5,458.8 1614.0,457.5 1614.5,459.6 1615.0,458.3 1615.5,459.1 1616.0,457.8 1616.5,457.8 1617.0,459.3 1617.5,458.6 1618.0,457.7 1618.5,457.6 1619.0,459.2 1619.5,460.5 1620.0,457.6 1620.5,459.3 1621.0,455.4" fill="none" stroke="#0000ff" stroke-width="2.3" stroke-linejoin="round"/>
<path d="M178.0,675.1 178.5,674.6 179.0,674.6 179.5,673.3 180.0,675.9 180.5,675.5 181.0,674.5 181.5,675.2 182.0,674.8 182.5,674.2 183.0,675.2 183.5,674.3 184.0,674.3 184.5,673.9 185.0,674.7 185.5,674.3 186.0,674.7 186.5,673.9 187.0,674.4 187.5,673.7 188.0,674.8 188.5,674.3 189.0,674.4 189.5,674.4 190.0,673.5 190.5,674.6 191.0,675.4 191.5,673.0 192.0,673.0 192.5,673.1 193.0,674.5 193.5,674.1 194.0,674.7 194.5,674.4 195.0,674.1 195.5,674.1 196.0,673.8 196.5,674.5 197.0,673.2 197.5,673.6 198.0,674.0 198.5,675.0 199.0,673.4 199.5,673.2 200.0,673.5 200.5,674.5 201.0,673.7 201.5,674.7 202.0,672.6 202.5,674.5 203.0,674.5 203.5,672.9 204.0,673.9 204.5,674.6 205.0,673.9 205.5,674.4 206.0,675.3 206.5,674.0 207.0,673.6 207.5,673.3 208.0,674.2 208.5,673.7 209.0,673.7 209.5,673.7 210.0,674.2 210.5,673.1 211.0,672.8 211.5,672.3 212.0,674.6 212.5,673.8 213.0,674.8 213.5,673.8 214.0,673.4 214.5,674.2 215.0,673.9 215.5,673.2 216.0,673.5 216.5,675.3 217.0,674.4 217.5,674.6 218.0,674.2 218.5,674.1 219.0,675.2 219.5,674.6 220.0,674.3 220.5,674.8 221.0,674.5 221.5,675.3 222.0,676.0 222.5,674.9 223.0,676.5 223.5,675.3 224.0,675.9 224.5,675.4 225.0,675.9 225.5,676.3 226.0,676.1 226.5,676.0 227.0,676.2 227.5,676.2 228.0,675.9 228.5,676.8 229.0,677.4 229.5,677.8 230.0,677.8 230.5,679.0 231.0,677.8 231.5,677.4 232.0,678.9 232.5,677.2 233.0,678.6 233.5,677.4 234.0,678.3 234.5,677.0 235.0,678.8 235.5,678.3 236.0,677.8 236.5,679.6 237.0,679.1 237.5,678.7 238.0,678.3 238.5,678.8 239.0,678.8 239.5,679.5 240.0,679.6 240.5,678.8 241.0,678.9 241.5,679.0 242.0,678.6 242.5,679.2 243.0,679.6 243.5,680.1 244.0,680.6 244.5,679.4 245.0,680.3 245.5,679.7 246.0,681.4 246.5,680.1 247.0,680.5 247.5,679.7 248.0,679.9 248.5,680.6 249.0,680.3 249.5,680.8 250.0,679.7 250.5,681.1 251.0,680.2 251.5,681.9 252.0,680.7 252.5,681.6 253.0,680.1 253.5,681.2 254.0,680.5 254.5,680.8 255.0,681.1 255.5,680.9 256.0,681.3 256.5,681.6 257.0,681.6 257.5,681.1 258.0,680.4 258.5,680.7 259.0,681.1 259.5,679.9 260.0,681.5 260.5,680.8 261.0,680.7 261.5,681.2 262.0,680.9 262.5,680.4 263.0,679.4 263.5,680.0 264.0,679.7 264.5,678.7 265.0,679.6 265.5,679.0 266.0,677.1 266.5,678.0 267.0,676.6 267.5,677.5 268.0,676.7 268.5,674.7 269.0,673.8 269.5,673.0 270.0,671.3 270.5,670.7 271.0,668.5 271.5,666.0 272.0,664.6 272.5,660.7 273.0,659.9 273.5,657.6 274.0,653.9 274.5,650.1 275.0,646.9 275.5,642.7 276.0,635.3 276.5,627.2 277.0,621.1 277.5,607.6 278.0,595.7 278.5,581.0 279.0,570.9 279.5,558.9 280.0,551.0 280.5,540.3 281.0,529.0 281.5,519.6 282.0,510.7 282.5,499.1 283.0,484.7 283.5,473.3 284.0,462.4 284.5,459.9 285.0,461.9 285.5,466.8 286.0,472.1 286.5,486.9 287.0,501.4 287.5,512.8 288.0,530.9 288.5,543.8 289.0,557.3 289.5,570.3 290.0,585.8 290.5,598.9 291.0,610.1 291.5,619.4 292.0,630.2 292.5,636.6 293.0,643.6 293.5,652.0 294.0,657.2 294.5,661.7 295.0,665.3 295.5,669.5 296.0,669.9 296.5,673.5 297.0,674.6 297.5,675.7 298.0,676.8 298.5,679.3 299.0,680.1 299.5,681.1 300.0,682.4 300.5,682.3 301.0,683.0 301.5,683.4 302.0,685.1 302.5,686.4 303.0,686.5 303.5,687.6 304.0,687.0 304.5,687.9 305.0,688.1 305.5,688.1 306.0,690.2 306.5,689.9 307.0,689.2 307.5,689.5 308.0,690.1 308.5,689.6 309.0,690.9 309.5,690.1 310.0,690.8 310.5,690.6 311.0,691.1 311.5,690.8 312.0,690.8 312.5,691.3 313.0,691.6 313.5,692.0 314.0,692.4 314.5,693.3 315.0,693.1 315.5,692.6 316.0,693.3 316.5,692.6 317.0,694.0 317.5,693.6 318.0,692.6 318.5,694.0 319.0,694.2 319.5,692.3 320.0,693.6 320.5,693.9 321.0,693.2 321.5,693.9 322.0,694.1 322.5,695.1 323.0,695.1 323.5,696.6 324.0,695.1 324.5,696.1 325.0,695.6 325.5,695.9 326.0,695.3 326.5,695.0 327.0,695.8 327.5,696.8 328.0,697.4 328.5,697.0 329.0,697.1 329.5,696.5 330.0,698.0 330.5,698.0 331.0,697.1 331.5,697.5 332.0,697.1 332.5,698.6 333.0,698.2 333.5,698.0 334.0,698.4 334.5,698.6 335.0,698.2 335.5,697.9 336.0,698.0 336.5,697.8 337.0,699.1 337.5,700.2 338.0,698.1 338.5,699.2 339.0,699.4 339.5,698.8 340.0,699.5 340.5,698.8 341.0,700.2 341.5,699.3 342.0,699.7 342.5,700.1 343.0,699.6 343.5,698.9 344.0,699.7 344.5,700.4 345.0,700.0 345.5,700.3 346.0,699.6 346.5,700.4 347.0,700.7 347.5,700.4 348.0,701.5 348.5,700.4 349.0,700.0 349.5,699.8 350.0,701.3 350.5,700.7 351.0,701.4 351.5,701.1 352.0,701.8 352.5,701.7 353.0,700.9 353.5,701.3 354.0,701.8 354.5,700.6 355.0,702.1 355.5,702.0 356.0,701.9 356.5,701.3 357.0,701.6 357.5,700.9 358.0,701.6 358.5,701.3 359.0,701.7 359.5,701.5 360.0,701.9 360.5,702.5 361.0,701.2 361.5,702.4 362.0,700.9 362.5,700.8 363.0,702.0 363.5,702.1 364.0,702.4 364.5,701.3 365.0,702.2 365.5,702.3 366.0,703.0 366.5,702.3 367.0,702.7 367.5,701.9 368.0,702.4 368.5,702.3 369.0,702.9 369.5,702.0 370.0,702.2 370.5,703.0 371.0,703.7 371.5,702.9 372.0,702.9 372.5,702.6 373.0,703.4 373.5,703.2 374.0,703.8 374.5,703.1 375.0,702.5 375.5,702.7 376.0,702.5 376.5,702.4 377.0,703.8 377.5,703.6 378.0,702.5 378.5,704.2 379.0,703.4 379.5,702.8 380.0,703.5 380.5,703.3 381.0,703.0 381.5,702.4 382.0,703.5 382.5,703.6 383.0,702.1 383.5,703.9 384.0,703.9 384.5,703.4 385.0,703.7 385.5,703.5 386.0,703.3 386.5,703.6 387.0,704.5 387.5,703.0 388.0,704.0 388.5,704.0 389.0,703.5 389.5,703.7 390.0,703.2 390.5,703.5 391.0,704.0 391.5,704.2 392.0,703.6 392.5,705.7 393.0,703.8 393.5,704.2 394.0,704.0 394.5,704.0 395.0,704.9 395.5,704.0 396.0,705.0 396.5,704.9 397.0,703.8 397.5,704.9 398.0,704.0 398.5,705.9 399.0,704.2 399.5,704.0 400.0,703.5 400.5,703.8 401.0,704.2 401.5,704.0 402.0,703.9 402.5,704.2 403.0,704.5 403.5,705.4 404.0,703.8 404.5,704.4 405.0,704.2 405.5,703.9 406.0,704.1 406.5,704.3 407.0,705.2 407.5,704.7 408.0,704.6 408.5,705.2 409.0,705.0 409.5,704.8 410.0,705.1 410.5,704.5 411.0,705.3 411.5,705.3 412.0,704.8 412.5,704.4 413.0,705.9 413.5,705.1 414.0,706.7 414.5,704.8 415.0,705.6 415.5,704.9 416.0,705.3 416.5,705.7 417.0,704.8 417.5,705.2 418.0,705.4 418.5,705.4 419.0,705.6 419.5,705.9 420.0,705.8 420.5,705.5 421.0,705.2 421.5,704.8 422.0,705.1 422.5,705.2 423.0,705.8 423.5,705.3 424.0,704.9 424.5,705.9 425.0,705.1 425.5,705.2 426.0,705.5 426.5,705.9 427.0,704.4 427.5,705.1 428.0,705.8 428.5,705.5 429.0,705.3 429.5,705.5 430.0,706.5 430.5,705.6 431.0,706.2 431.5,706.3 432.0,705.6 432.5,706.1 433.0,705.7 433.5,705.6 434.0,705.4 434.5,706.4 435.0,705.8 435.5,705.7 436.0,705.5 436.5,707.0 437.0,706.5 437.5,706.0 438.0,705.8 438.5,705.4 439.0,706.3 439.5,706.4 440.0,705.5 440.5,706.9 441.0,706.7 441.5,705.8 442.0,706.0 442.5,706.1 443.0,706.4 443.5,706.3 444.0,705.6 444.5,707.2 445.0,706.6 445.5,707.1 446.0,707.2 446.5,706.4 447.0,706.7 447.5,706.9 448.0,707.0 448.5,706.5 449.0,706.3 449.5,706.7 450.0,706.2 450.5,706.4 451.0,705.7 451.5,706.8 452.0,706.2 452.5,706.5 453.0,706.8 453.5,707.0 454.0,707.8 454.5,707.0 455.0,706.1 455.5,707.0 456.0,706.6 456.5,707.1 457.0,706.6 457.5,706.6 458.0,706.7 458.5,706.7 459.0,706.1 459.5,706.7 460.0,707.0 460.5,707.7 461.0,706.9 461.5,706.9 462.0,707.4 462.5,707.4 463.0,708.0 463.5,707.5 464.0,707.2 464.5,707.9 465.0,708.0 465.5,707.0 466.0,707.3 466.5,706.4 467.0,707.0 467.5,706.8 468.0,707.2 468.5,707.0 469.0,707.2 469.5,707.2 470.0,707.6 470.5,707.4 471.0,707.0 471.5,706.7 472.0,708.0 472.5,708.1 473.0,707.1 473.5,707.6 474.0,706.6 474.5,706.6 475.0,707.2 475.5,708.1 476.0,706.8 476.5,707.0 477.0,708.2 477.5,706.4 478.0,707.7 478.5,707.6 479.0,707.3 479.5,707.5 480.0,708.8 480.5,706.8 481.0,707.2 481.5,707.3 482.0,707.0 482.5,706.7 483.0,708.2 483.5,707.5 484.0,706.5 484.5,707.0 485.0,707.6 485.5,707.5 486.0,706.6 486.5,707.3 487.0,707.4 487.5,707.5 488.0,707.5 488.5,706.3 489.0,708.2 489.5,707.3 490.0,708.1 490.5,708.7 491.0,707.1 491.5,706.5 492.0,707.5 492.5,707.0 493.0,706.8 493.5,706.5 494.0,707.9 494.5,706.7 495.0,706.2 495.5,706.7 496.0,706.2 496.5,706.9 497.0,706.6 497.5,706.2 498.0,707.0 498.5,706.3 499.0,707.0 499.5,707.2 500.0,706.3 500.5,706.1 501.0,706.5 501.5,706.8 502.0,706.3 502.5,706.3 503.0,706.2 503.5,706.3 504.0,706.4 504.5,705.7 505.0,705.7 505.5,705.9 506.0,705.5 506.5,705.8 507.0,706.0 507.5,705.6 508.0,705.2 508.5,705.1 509.0,706.3 509.5,705.8 510.0,704.7 510.5,704.7 511.0,706.1 511.5,705.8 512.0,705.0 512.5,705.5 513.0,704.0 513.5,704.7 514.0,705.0 514.5,703.5 515.0,703.8 515.5,704.4 516.0,704.3 516.5,703.0 517.0,703.1 517.5,703.4 518.0,701.8 518.5,700.8 519.0,701.0 519.5,700.3 520.0,700.7 520.5,699.4 521.0,697.9 521.5,698.6 522.0,695.8 522.5,695.1 523.0,694.0 523.5,692.9 524.0,691.7 524.5,691.2 525.0,690.5 525.5,689.7 526.0,690.5 526.5,690.7 527.0,690.9 527.5,691.4 528.0,691.2 528.5,692.7 529.0,693.1 529.5,691.3 530.0,692.8 530.5,692.6 531.0,691.7 531.5,693.5 532.0,692.9 532.5,692.6 533.0,691.6 533.5,691.5 534.0,690.2 534.5,688.0 535.0,686.5 535.5,684.3 536.0,682.7 536.5,680.5 537.0,679.3 537.5,677.0 538.0,675.7 538.5,673.9 539.0,671.6 539.5,670.4 540.0,669.8 540.5,665.1 541.0,664.9 541.5,663.0 542.0,661.6 542.5,659.6 543.0,659.5 543.5,658.6 544.0,658.0 544.5,658.5 545.0,659.1 545.5,659.2 546.0,663.2 546.5,664.1 547.0,665.6 547.5,668.2 548.0,669.5 548.5,670.7 549.0,675.0 549.5,675.7 550.0,678.7 550.5,680.5 551.0,682.5 551.5,683.5 552.0,683.9 552.5,684.3 553.0,685.3 553.5,687.0 554.0,688.1 554.5,688.0 555.0,687.8 555.5,689.3 556.0,688.9 556.5,689.2 557.0,689.6 557.5,690.4 558.0,690.5 558.5,691.2 559.0,691.6 559.5,691.5 560.0,690.2 560.5,690.9 561.0,692.4 561.5,692.8 562.0,694.8 562.5,694.3 563.0,695.1 563.5,696.7 564.0,697.8 564.5,698.1 565.0,699.5 565.5,699.7 566.0,700.8 566.5,702.8 567.0,702.2 567.5,704.1 568.0,704.5 568.5,705.0 569.0,705.3 569.5,705.3 570.0,704.1 570.5,704.9 571.0,705.3 571.5,706.3 572.0,705.5 572.5,705.9 573.0,706.2 573.5,707.3 574.0,706.0 574.5,706.2 575.0,707.4 575.5,706.1 576.0,707.5 576.5,707.2 577.0,706.7 577.5,707.4 578.0,707.2 578.5,707.9 579.0,708.1 579.5,708.8 580.0,708.1 580.5,708.2 581.0,707.9 581.5,708.3 582.0,708.9 582.5,707.4 583.0,708.7 583.5,708.1 584.0,708.4 584.5,708.6 585.0,708.9 585.5,708.6 586.0,708.3 586.5,708.6 587.0,708.5 587.5,708.4 588.0,708.6 588.5,709.0 589.0,708.6 589.5,708.6 590.0,707.9 590.5,708.5 591.0,707.6 591.5,709.0 592.0,708.1 592.5,709.3 593.0,710.2 593.5,708.4 594.0,709.3 594.5,708.9 595.0,708.4 595.5,708.2 596.0,709.0 596.5,709.4 597.0,708.9 597.5,707.9 598.0,708.2 598.5,708.6 599.0,709.4 599.5,708.9 600.0,708.9 600.5,709.4 601.0,708.7 601.5,708.7 602.0,708.7 602.5,707.9 603.0,709.1 603.5,709.0 604.0,709.3 604.5,708.2 605.0,708.4 605.5,709.3 606.0,709.0 606.5,709.6 607.0,708.4 607.5,709.0 608.0,708.6 608.5,709.1 609.0,708.7 609.5,709.2 610.0,709.5 610.5,709.3 611.0,708.0 611.5,709.4 612.0,709.2 612.5,708.4 613.0,708.5 613.5,709.0 614.0,709.3 614.5,708.8 615.0,708.2 615.5,709.2 616.0,709.1 616.5,710.3 617.0,708.4 617.5,710.3 618.0,709.9 618.5,709.2 619.0,709.9 619.5,709.1 620.0,709.6 620.5,708.7 621.0,709.1 621.5,708.6 622.0,708.3 622.5,709.0 623.0,708.8 623.5,709.4 624.0,709.8 624.5,709.0 625.0,709.1 625.5,709.2 626.0,708.3 626.5,709.3 627.0,709.1 627.5,709.1 628.0,708.6 628.5,708.1 629.0,709.0 629.5,709.3 630.0,709.8 630.5,709.7 631.0,709.9 631.5,709.4 632.0,709.8 632.5,709.1 633.0,709.5 633.5,709.7 634.0,710.6 634.5,709.3 635.0,708.5 635.5,709.9 636.0,708.8 636.5,709.2 637.0,709.1 637.5,708.8 638.0,709.9 638.5,709.5 639.0,708.9 639.5,709.3 640.0,709.0 640.5,709.5 641.0,709.0 641.5,708.8 642.0,708.9 642.5,709.0 643.0,709.4 643.5,708.8 644.0,709.2 644.5,709.5 645.0,710.4 645.5,709.7 646.0,707.7 646.5,709.0 647.0,709.1 647.5,709.4 648.0,710.1 648.5,709.6 649.0,708.1 649.5,709.4 650.0,709.3 650.5,709.5 651.0,710.0 651.5,708.7 652.0,709.8 652.5,708.4 653.0,709.3 653.5,709.5 654.0,710.4 654.5,708.9 655.0,708.4 655.5,709.6 656.0,709.0 656.5,710.1 657.0,708.9 657.5,708.8 658.0,709.9 658.5,709.3 659.0,709.8 659.5,708.6 660.0,710.1 660.5,709.0 661.0,709.7 661.5,708.8 662.0,708.5 662.5,709.2 663.0,709.4 663.5,710.1 664.0,709.5 664.5,709.7 665.0,709.6 665.5,710.9 666.0,708.9 666.5,709.9 667.0,709.2 667.5,709.4 668.0,709.0 668.5,709.9 669.0,708.7 669.5,708.6 670.0,709.2 670.5,708.7 671.0,709.7 671.5,709.8 672.0,708.9 672.5,709.7 673.0,709.0 673.5,709.3 674.0,709.3 674.5,710.2 675.0,709.3 675.5,708.8 676.0,708.8 676.5,709.9 677.0,708.4 677.5,709.0 678.0,709.1 678.5,708.0 679.0,709.0 679.5,709.8 680.0,709.4 680.5,708.8 681.0,709.6 681.5,709.5 682.0,710.3 682.5,708.9 683.0,709.1 683.5,709.3 684.0,709.2 684.5,709.3 685.0,709.2 685.5,708.9 686.0,708.4 686.5,708.9 687.0,708.5 687.5,708.7 688.0,708.9 688.5,709.5 689.0,709.6 689.5,708.7 690.0,709.4 690.5,709.6 691.0,709.2 691.5,708.3 692.0,708.1 692.5,709.6 693.0,709.6 693.5,709.3 694.0,708.6 694.5,709.9 695.0,709.7 695.5,709.1 696.0,709.0 696.5,708.1 697.0,709.5 697.5,708.3 698.0,709.4 698.5,709.4 699.0,709.1 699.5,709.9 700.0,708.9 700.5,709.3 701.0,709.4 701.5,709.2 702.0,708.8 702.5,709.6 703.0,709.2 703.5,708.9 704.0,708.9 704.5,709.0 705.0,710.1 705.5,709.0 706.0,708.8 706.5,708.4 707.0,708.3 707.5,707.9 708.0,709.0 708.5,708.9 709.0,708.3 709.5,708.1 710.0,708.7 710.5,708.6 711.0,708.1 711.5,709.0 712.0,708.9 712.5,708.8 713.0,709.2 713.5,708.4 714.0,709.4 714.5,708.2 715.0,709.0 715.5,709.0 716.0,708.6 716.5,708.9 717.0,708.0 717.5,707.9 718.0,708.5 718.5,708.2 719.0,708.9 719.5,708.6 720.0,708.9 720.5,708.7 721.0,708.6 721.5,708.6 722.0,708.3 722.5,708.2 723.0,709.5 723.5,707.5 724.0,708.3 724.5,708.9 725.0,708.6 725.5,709.1 726.0,708.6 726.5,707.6 727.0,708.0 727.5,707.3 728.0,708.4 728.5,708.5 729.0,707.4 729.5,707.7 730.0,707.0 730.5,706.3 731.0,706.6 731.5,705.7 732.0,706.0 732.5,706.1 733.0,706.1 733.5,706.1 734.0,704.9 734.5,704.9 735.0,704.6 735.5,704.3 736.0,702.1 736.5,702.8 737.0,703.2 737.5,701.7 738.0,702.0 738.5,701.9 739.0,699.9 739.5,700.4 740.0,700.1 740.5,699.4 741.0,697.8 741.5,697.9 742.0,696.3 742.5,695.9 743.0,694.3 743.5,692.3 744.0,691.3 744.5,689.2 745.0,687.6 745.5,685.3 746.0,684.1 746.5,682.5 747.0,679.7 747.5,677.1 748.0,674.1 748.5,671.4 749.0,669.3 749.5,665.0 750.0,664.1 750.5,659.1 751.0,656.8 751.5,652.3 752.0,647.7 752.5,645.5 753.0,642.2 753.5,639.4 754.0,636.9 754.5,633.8 755.0,632.6 755.5,632.8 756.0,633.4 756.5,636.3 757.0,639.3 757.5,642.2 758.0,645.1 758.5,647.7 759.0,652.2 759.5,654.3 760.0,659.5 760.5,663.5 761.0,667.9 761.5,671.4 762.0,675.2 762.5,678.2 763.0,681.9 763.5,683.3 764.0,686.2 764.5,686.9 765.0,691.0 765.5,692.6 766.0,692.7 766.5,693.6 767.0,693.8 767.5,695.0 768.0,696.8 768.5,697.5 769.0,697.5 769.5,698.8 770.0,699.4 770.5,700.7 771.0,701.5 771.5,701.6 772.0,702.4 772.5,702.9 773.0,702.3 773.5,704.0 774.0,704.3 774.5,705.1 775.0,704.1 775.5,705.8 776.0,705.4 776.5,706.1 777.0,706.8 777.5,705.6 778.0,705.8 778.5,707.1 779.0,706.1 779.5,706.3 780.0,707.3 780.5,707.0 781.0,707.6 781.5,707.4 782.0,707.4 782.5,708.0 783.0,708.7 783.5,707.6 784.0,708.5 784.5,708.4 785.0,708.0 785.5,708.3 786.0,707.6 786.5,707.9 787.0,708.4 787.5,708.3 788.0,709.1 788.5,707.8 789.0,708.4 789.5,708.3 790.0,708.6 790.5,709.3 791.0,708.1 791.5,709.2 792.0,708.6 792.5,708.7 793.0,709.5 793.5,708.8 794.0,709.4 794.5,709.1 795.0,709.0 795.5,708.9 796.0,708.3 796.5,708.8 797.0,709.3 797.5,709.3 798.0,708.5 798.5,709.7 799.0,709.5 799.5,708.6 800.0,708.7 800.5,709.5 801.0,708.3 801.5,708.9 802.0,709.2 802.5,709.2 803.0,709.2 803.5,709.4 804.0,708.8 804.5,709.0 805.0,710.3 805.5,708.5 806.0,709.0 806.5,709.3 807.0,708.9 807.5,709.9 808.0,709.3 808.5,709.6 809.0,707.9 809.5,709.9 810.0,709.8 810.5,708.9 811.0,709.9 811.5,709.4 812.0,709.7 812.5,710.2 813.0,709.3 813.5,708.7 814.0,709.2 814.5,708.6 815.0,708.8 815.5,708.9 816.0,708.9 816.5,709.8 817.0,709.7 817.5,708.8 818.0,709.8 818.5,708.4 819.0,708.9 819.5,709.2 820.0,709.9 820.5,709.6 821.0,709.5 821.5,709.9 822.0,709.6 822.5,710.0 823.0,708.9 823.5,708.4 824.0,709.1 824.5,709.7 825.0,709.4 825.5,709.7 826.0,709.6 826.5,709.5 827.0,709.7 827.5,708.9 828.0,709.8 828.5,708.8 829.0,709.2 829.5,708.5 830.0,709.5 830.5,708.5 831.0,710.0 831.5,708.6 832.0,709.4 832.5,709.2 833.0,708.8 833.5,709.9 834.0,709.0 834.5,710.0 835.0,708.7 835.5,708.9 836.0,708.2 836.5,709.5 837.0,709.7 837.5,709.4 838.0,709.2 838.5,708.8 839.0,710.5 839.5,709.6 840.0,708.3 840.5,709.1 841.0,707.9 841.5,710.1 842.0,710.3 842.5,710.0 843.0,709.2 843.5,709.0 844.0,708.6 844.5,709.5 845.0,708.9 845.5,709.1 846.0,708.9 846.5,709.1 847.0,709.7 847.5,710.1 848.0,709.2 848.5,709.1 849.0,708.4 849.5,708.2 850.0,708.2 850.5,709.1 851.0,708.6 851.5,708.8 852.0,708.3 852.5,707.7 853.0,707.1 853.5,707.4 854.0,706.6 854.5,708.1 855.0,707.0 855.5,706.4 856.0,707.4 856.5,705.9 857.0,706.1 857.5,705.5 858.0,705.5 858.5,704.8 859.0,705.0 859.5,705.1 860.0,703.3 860.5,702.4 861.0,703.8 861.5,702.6 862.0,702.4 862.5,701.1 863.0,701.4 863.5,700.8 864.0,698.3 864.5,698.5 865.0,696.9 865.5,695.5 866.0,695.3 866.5,694.9 867.0,692.8 867.5,691.9 868.0,692.4 868.5,690.7 869.0,689.8 869.5,687.6 870.0,686.3 870.5,685.1 871.0,683.4 871.5,681.5 872.0,680.5 872.5,677.8 873.0,674.9 873.5,673.7 874.0,672.8 874.5,672.4 875.0,670.1 875.5,669.7 876.0,669.6 876.5,669.3 877.0,669.5 877.5,670.4 878.0,672.0 878.5,672.6 879.0,673.1 879.5,674.8 880.0,675.0 880.5,677.9 881.0,679.2 881.5,680.4 882.0,680.7 882.5,684.4 883.0,682.8 883.5,685.4 884.0,686.8 884.5,688.9 885.0,688.7 885.5,690.7 886.0,691.2 886.5,691.6 887.0,692.6 887.5,693.1 888.0,692.3 888.5,691.6 889.0,689.9 889.5,691.4 890.0,689.6 890.5,687.7 891.0,687.8 891.5,687.5 892.0,685.3 892.5,683.4 893.0,684.1 893.5,681.7 894.0,680.2 894.5,679.2 895.0,675.8 895.5,675.8 896.0,674.5 896.5,674.8 897.0,671.8 897.5,670.8 898.0,669.3 898.5,668.9 899.0,668.6 899.5,668.4 900.0,667.7 900.5,669.1 901.0,668.2 901.5,668.7 902.0,669.8 902.5,670.3 903.0,670.7 903.5,671.4 904.0,674.2 904.5,675.1 905.0,678.3 905.5,678.8 906.0,679.9 906.5,683.3 907.0,685.9 907.5,687.1 908.0,689.3 908.5,691.2 909.0,693.9 909.5,694.7 910.0,696.0 910.5,697.0 911.0,697.5 911.5,700.1 912.0,700.6 912.5,700.0 913.0,701.3 913.5,701.7 914.0,701.8 914.5,702.3 915.0,703.3 915.5,702.7 916.0,703.4 916.5,704.1 917.0,704.5 917.5,704.7 918.0,705.3 918.5,705.8 919.0,705.3 919.5,706.1 920.0,706.0 920.5,707.3 921.0,706.0 921.5,706.8 922.0,707.4 922.5,707.1 923.0,707.1 923.5,707.1 924.0,707.7 924.5,707.0 925.0,707.6 925.5,707.7 926.0,707.1 926.5,708.1 927.0,707.7 927.5,708.2 928.0,708.6 928.5,708.4 929.0,707.7 929.5,708.5 930.0,707.6 930.5,708.1 931.0,709.5 931.5,708.7 932.0,709.6 932.5,708.7 933.0,708.9 933.5,708.4 934.0,709.5 934.5,709.0 935.0,709.5 935.5,709.4 936.0,709.5 936.5,709.5 937.0,709.4 937.5,709.5 938.0,709.2 938.5,708.5 939.0,709.9 939.5,710.7 940.0,710.3 940.5,711.0 941.0,710.1 941.5,709.4 942.0,709.4 942.5,710.4 943.0,710.2 943.5,710.0 944.0,710.5 944.5,709.7 945.0,710.5 945.5,710.1 946.0,710.4 946.5,711.0 947.0,710.3 947.5,711.1 948.0,711.1 948.5,710.1 949.0,711.7 949.5,709.9 950.0,710.6 950.5,711.0 951.0,709.5 951.5,711.2 952.0,711.3 952.5,710.7 953.0,710.9 953.5,710.9 954.0,710.7 954.5,711.4 955.0,710.7 955.5,710.9 956.0,711.1 956.5,711.4 957.0,711.5 957.5,710.2 958.0,710.0 958.5,711.0 959.0,711.0 959.5,710.5 960.0,711.2 960.5,711.4 961.0,711.3 961.5,712.0 962.0,710.6 962.5,711.2 963.0,712.1 963.5,711.5 964.0,710.6 964.5,711.3 965.0,711.8 965.5,712.2 966.0,711.5 966.5,711.8 967.0,710.6 967.5,711.1 968.0,711.8 968.5,710.7 969.0,711.2 969.5,710.3 970.0,712.0 970.5,711.1 971.0,711.5 971.5,710.4 972.0,710.5 972.5,712.1 973.0,711.0 973.5,710.9 974.0,711.4 974.5,711.5 975.0,710.2 975.5,710.7 976.0,711.2 976.5,711.2 977.0,711.3 977.5,710.9 978.0,711.0 978.5,711.3 979.0,710.8 979.5,710.7 980.0,710.9 980.5,711.1 981.0,711.0 981.5,710.9 982.0,711.0 982.5,711.1 983.0,711.3 983.5,711.3 984.0,710.4 984.5,711.6 985.0,710.3 985.5,711.3 986.0,710.7 986.5,711.3 987.0,711.6 987.5,710.1 988.0,711.3 988.5,711.1 989.0,710.7 989.5,711.2 990.0,710.7 990.5,711.0 991.0,710.4 991.5,711.3 992.0,711.2 992.5,711.3 993.0,710.6 993.5,711.8 994.0,711.9 994.5,710.8 995.0,710.6 995.5,710.6 996.0,711.1 996.5,711.3 997.0,710.4 997.5,709.7 998.0,711.0 998.5,710.7 999.0,710.8 999.5,710.9 1000.0,710.1 1000.5,710.7 1001.0,710.5 1001.5,710.8 1002.0,711.2 1002.5,710.6 1003.0,710.1 1003.5,711.2 1004.0,710.9 1004.5,710.4 1005.0,709.5 1005.5,710.0 1006.0,710.5 1006.5,710.7 1007.0,710.1 1007.5,710.6 1008.0,710.0 1008.5,710.1 1009.0,710.5 1009.5,710.1 1010.0,710.3 1010.5,710.6 1011.0,710.7 1011.5,709.8 1012.0,710.0 1012.5,709.4 1013.0,709.4 1013.5,710.2 1014.0,709.7 1014.5,709.0 1015.0,710.2 1015.5,709.5 1016.0,709.7 1016.5,710.1 1017.0,710.0 1017.5,709.8 1018.0,708.7 1018.5,710.0 1019.0,709.4 1019.5,708.9 1020.0,708.5 1020.5,710.3 1021.0,709.6 1021.5,709.6 1022.0,709.8 1022.5,709.4 1023.0,708.7 1023.5,709.7 1024.0,709.9 1024.5,709.6 1025.0,710.1 1025.5,710.2 1026.0,708.8 1026.5,708.8 1027.0,709.4 1027.5,708.9 1028.0,708.8 1028.5,709.0 1029.0,708.7 1029.5,707.9 1030.0,708.0 1030.5,707.4 1031.0,707.4 1031.5,706.7 1032.0,706.0 1032.5,706.5 1033.0,706.2 1033.5,706.7 1034.0,706.7 1034.5,705.6 1035.0,705.5 1035.5,704.6 1036.0,704.1 1036.5,704.1 1037.0,703.8 1037.5,703.8 1038.0,703.3 1038.5,703.8 1039.0,702.4 1039.5,701.3 1040.0,701.9 1040.5,701.1 1041.0,701.1 1041.5,701.1 1042.0,699.6 1042.5,699.3 1043.0,699.0 1043.5,697.4 1044.0,697.3 1044.5,696.7 1045.0,696.1 1045.5,695.4 1046.0,694.2 1046.5,693.3 1047.0,691.4 1047.5,689.7 1048.0,689.8 1048.5,690.4 1049.0,688.7 1049.5,686.5 1050.0,686.7 1050.5,686.4 1051.0,684.3 1051.5,685.0 1052.0,683.2 1052.5,683.9 1053.0,682.7 1053.5,684.0 1054.0,680.8 1054.5,681.3 1055.0,679.9 1055.5,681.2 1056.0,680.3 1056.5,680.7 1057.0,680.2 1057.5,679.5 1058.0,680.0 1058.5,680.1 1059.0,680.8 1059.5,682.2 1060.0,683.5 1060.5,684.3 1061.0,685.1 1061.5,685.5 1062.0,687.2 1062.5,687.6 1063.0,689.4 1063.5,690.9 1064.0,691.5 1064.5,692.5 1065.0,693.7 1065.5,695.4 1066.0,695.9 1066.5,696.3 1067.0,697.7 1067.5,698.2 1068.0,700.3 1068.5,700.0 1069.0,699.7 1069.5,701.2 1070.0,701.9 1070.5,702.3 1071.0,702.4 1071.5,703.1 1072.0,703.7 1072.5,704.6 1073.0,704.7 1073.5,706.2 1074.0,705.3 1074.5,706.6 1075.0,706.3 1075.5,705.8 1076.0,706.4 1076.5,706.4 1077.0,706.8 1077.5,708.6 1078.0,707.9 1078.5,708.8 1079.0,708.3 1079.5,708.9 1080.0,708.5 1080.5,709.6 1081.0,709.1 1081.5,709.1 1082.0,709.2 1082.5,710.4 1083.0,709.6 1083.5,709.8 1084.0,708.8 1084.5,709.1 1085.0,709.6 1085.5,708.5 1086.0,710.1 1086.5,709.6 1087.0,709.5 1087.5,709.4 1088.0,709.4 1088.5,709.3 1089.0,710.2 1089.5,709.9 1090.0,710.2 1090.5,709.4 1091.0,709.1 1091.5,710.3 1092.0,709.0 1092.5,709.3 1093.0,710.0 1093.5,710.2 1094.0,709.0 1094.5,709.5 1095.0,709.7 1095.5,709.6 1096.0,709.3 1096.5,710.1 1097.0,709.5 1097.5,709.6 1098.0,708.6 1098.5,709.7 1099.0,708.8 1099.5,710.2 1100.0,710.1 1100.5,709.6 1101.0,709.9 1101.5,709.9 1102.0,709.8 1102.5,710.0 1103.0,709.8 1103.5,709.6 1104.0,709.5 1104.5,710.7 1105.0,710.0 1105.5,709.9 1106.0,710.3 1106.5,709.7 1107.0,709.8 1107.5,710.3 1108.0,710.5 1108.5,710.3 1109.0,709.2 1109.5,710.0 1110.0,710.0 1110.5,710.2 1111.0,709.6 1111.5,709.5 1112.0,710.0 1112.5,709.6 1113.0,709.5 1113.5,710.0 1114.0,710.5 1114.5,710.1 1115.0,710.6 1115.5,709.6 1116.0,710.4 1116.5,710.1 1117.0,709.7 1117.5,709.9 1118.0,709.7 1118.5,710.0 1119.0,709.7 1119.5,710.8 1120.0,709.9 1120.5,709.4 1121.0,710.0 1121.5,710.3 1122.0,710.0 1122.5,710.6 1123.0,709.7 1123.5,709.7 1124.0,711.0 1124.5,710.2 1125.0,710.4 1125.5,710.4 1126.0,710.5 1126.5,710.2 1127.0,710.1 1127.5,710.7 1128.0,710.0 1128.5,710.3 1129.0,710.6 1129.5,710.0 1130.0,709.5 1130.5,710.5 1131.0,710.8 1131.5,710.4 1132.0,709.4 1132.5,710.6 1133.0,711.2 1133.5,709.5 1134.0,708.9 1134.5,710.1 1135.0,710.3 1135.5,710.6 1136.0,710.7 1136.5,710.3 1137.0,710.5 1137.5,710.4 1138.0,710.3 1138.5,710.2 1139.0,710.2 1139.5,710.6 1140.0,710.5 1140.5,710.1 1141.0,710.8 1141.5,709.9 1142.0,710.2 1142.5,710.3 1143.0,709.3 1143.5,710.1 1144.0,710.7 1144.5,710.7 1145.0,709.7 1145.5,709.9 1146.0,709.8 1146.5,710.2 1147.0,710.3 1147.5,709.5 1148.0,710.5 1148.5,710.3 1149.0,710.3 1149.5,710.0 1150.0,710.2 1150.5,709.4 1151.0,710.4 1151.5,710.4 1152.0,710.2 1152.5,709.7 1153.0,710.9 1153.5,710.9 1154.0,709.4 1154.5,710.5 1155.0,710.4 1155.5,709.0 1156.0,710.5 1156.5,710.6 1157.0,710.6 1157.5,710.3 1158.0,709.9 1158.5,709.9 1159.0,710.3 1159.5,710.6 1160.0,709.7 1160.5,709.7 1161.0,710.1 1161.5,708.6 1162.0,709.8 1162.5,709.4 1163.0,708.3 1163.5,709.7 1164.0,708.7 1164.5,709.5 1165.0,709.6 1165.5,708.2 1166.0,708.1 1166.5,708.5 1167.0,707.5 1167.5,708.6 1168.0,708.2 1168.5,708.5 1169.0,706.9 1169.5,707.8 1170.0,707.8 1170.5,706.5 1171.0,707.7 1171.5,706.3 1172.0,706.9 1172.5,705.8 1173.0,706.6 1173.5,706.7 1174.0,705.5 1174.5,705.1 1175.0,705.3 1175.5,704.0 1176.0,703.8 1176.5,703.8 1177.0,703.1 1177.5,703.3 1178.0,702.6 1178.5,702.6 1179.0,701.1 1179.5,701.4 1180.0,699.9 1180.5,700.5 1181.0,700.6 1181.5,700.7 1182.0,698.5 1182.5,698.8 1183.0,699.1 1183.5,698.1 1184.0,698.8 1184.5,698.7 1185.0,698.2 1185.5,698.3 1186.0,698.2 1186.5,699.1 1187.0,699.8 1187.5,699.6 1188.0,701.3 1188.5,699.4 1189.0,700.2 1189.5,701.3 1190.0,700.8 1190.5,702.0 1191.0,702.7 1191.5,702.9 1192.0,703.1 1192.5,704.2 1193.0,704.3 1193.5,704.9 1194.0,705.2 1194.5,704.9 1195.0,705.0 1195.5,705.7 1196.0,706.2 1196.5,706.2 1197.0,706.9 1197.5,706.7 1198.0,707.0 1198.5,706.6 1199.0,706.1 1199.5,706.8 1200.0,706.4 1200.5,705.6 1201.0,705.6 1201.5,707.0 1202.0,703.6 1202.5,705.6 1203.0,704.8 1203.5,704.4 1204.0,703.9 1204.5,703.5 1205.0,704.6 1205.5,702.8 1206.0,702.5 1206.5,702.7 1207.0,702.1 1207.5,701.4 1208.0,701.0 1208.5,700.1 1209.0,701.0 1209.5,699.5 1210.0,698.4 1210.5,700.0 1211.0,699.6 1211.5,699.0 1212.0,698.3 1212.5,699.0 1213.0,697.6 1213.5,696.8 1214.0,697.9 1214.5,698.2 1215.0,698.0 1215.5,698.8 1216.0,698.1 1216.5,697.6 1217.0,697.7 1217.5,698.5 1218.0,698.3 1218.5,698.5 1219.0,698.0 1219.5,699.2 1220.0,699.0 1220.5,700.3 1221.0,700.7 1221.5,701.6 1222.0,702.6 1222.5,702.1 1223.0,703.5 1223.5,702.7 1224.0,703.9 1224.5,704.8 1225.0,705.9 1225.5,704.8 1226.0,705.7 1226.5,706.4 1227.0,706.7 1227.5,706.6 1228.0,706.6 1228.5,707.1 1229.0,707.9 1229.5,707.5 1230.0,709.2 1230.5,709.0 1231.0,707.4 1231.5,708.2 1232.0,709.1 1232.5,709.2 1233.0,709.0 1233.5,707.7 1234.0,708.2 1234.5,709.1 1235.0,708.5 1235.5,708.2 1236.0,708.7 1236.5,708.9 1237.0,708.5 1237.5,708.5 1238.0,709.0 1238.5,708.1 1239.0,707.9 1239.5,708.8 1240.0,707.8 1240.5,708.7 1241.0,708.0 1241.5,708.8 1242.0,707.8 1242.5,709.0 1243.0,708.6 1243.5,708.3 1244.0,708.0 1244.5,708.3 1245.0,707.9 1245.5,707.8 1246.0,709.0 1246.5,708.7 1247.0,709.0 1247.5,707.7 1248.0,707.4 1248.5,707.6 1249.0,708.7 1249.5,708.8 1250.0,707.5 1250.5,708.9 1251.0,708.2 1251.5,707.8 1252.0,708.4 1252.5,708.7 1253.0,708.3 1253.5,708.3 1254.0,708.0 1254.5,707.7 1255.0,708.2 1255.5,707.6 1256.0,708.7 1256.5,708.0 1257.0,709.1 1257.5,707.6 1258.0,709.1 1258.5,707.9 1259.0,707.9 1259.5,708.5 1260.0,708.9 1260.5,708.4 1261.0,708.2 1261.5,709.4 1262.0,708.7 1262.5,707.8 1263.0,708.3 1263.5,709.3 1264.0,708.6 1264.5,708.8 1265.0,709.4 1265.5,708.1 1266.0,708.6 1266.5,708.1 1267.0,708.4 1267.5,708.7 1268.0,707.7 1268.5,708.5 1269.0,708.5 1269.5,708.9 1270.0,708.1 1270.5,707.7 1271.0,708.6 1271.5,707.8 1272.0,708.5 1272.5,708.7 1273.0,707.9 1273.5,708.3 1274.0,707.9 1274.5,706.9 1275.0,707.6 1275.5,707.3 1276.0,708.4 1276.5,707.8 1277.0,708.3 1277.5,708.4 1278.0,708.9 1278.5,708.2 1279.0,708.2 1279.5,708.7 1280.0,709.2 1280.5,708.4 1281.0,708.6 1281.5,708.3 1282.0,708.0 1282.5,707.6 1283.0,708.4 1283.5,708.3 1284.0,708.3 1284.5,709.4 1285.0,708.2 1285.5,708.6 1286.0,708.2 1286.5,709.0 1287.0,708.2 1287.5,709.3 1288.0,708.2 1288.5,708.7 1289.0,708.8 1289.5,708.1 1290.0,708.6 1290.5,708.1 1291.0,707.5 1291.5,707.4 1292.0,707.8 1292.5,708.4 1293.0,707.0 1293.5,707.4 1294.0,706.5 1294.5,706.9 1295.0,705.8 1295.5,705.9 1296.0,706.1 1296.5,705.4 1297.0,705.4 1297.5,705.9 1298.0,705.0 1298.5,704.4 1299.0,703.9 1299.5,704.0 1300.0,704.6 1300.5,703.7 1301.0,703.4 1301.5,703.6 1302.0,703.4 1302.5,703.2 1303.0,702.1 1303.5,701.4 1304.0,700.6 1304.5,700.6 1305.0,700.3 1305.5,700.3 1306.0,699.5 1306.5,698.4 1307.0,698.5 1307.5,696.7 1308.0,696.2 1308.5,695.5 1309.0,695.0 1309.5,694.9 1310.0,694.0 1310.5,693.5 1311.0,694.3 1311.5,692.3 1312.0,692.2 1312.5,692.4 1313.0,692.6 1313.5,692.6 1314.0,692.2 1314.5,692.2 1315.0,692.4 1315.5,693.3 1316.0,692.6 1316.5,692.2 1317.0,694.1 1317.5,693.8 1318.0,694.9 1318.5,696.3 1319.0,696.1 1319.5,697.6 1320.0,696.3 1320.5,697.9 1321.0,698.6 1321.5,699.4 1322.0,699.0 1322.5,700.0 1323.0,700.5 1323.5,700.9 1324.0,700.5 1324.5,700.6 1325.0,702.1 1325.5,702.2 1326.0,702.2 1326.5,702.7 1327.0,703.1 1327.5,702.1 1328.0,703.3 1328.5,703.8 1329.0,703.7 1329.5,703.6 1330.0,703.8 1330.5,702.7 1331.0,703.4 1331.5,704.3 1332.0,704.7 1332.5,704.3 1333.0,703.9 1333.5,704.2 1334.0,704.9 1334.5,705.7 1335.0,705.3 1335.5,704.8 1336.0,705.6 1336.5,705.7 1337.0,707.0 1337.5,706.3 1338.0,706.3 1338.5,706.5 1339.0,706.2 1339.5,706.5 1340.0,707.1 1340.5,707.2 1341.0,708.0 1341.5,708.2 1342.0,708.9 1342.5,709.5 1343.0,709.0 1343.5,709.1 1344.0,708.4 1344.5,709.8 1345.0,710.1 1345.5,709.5 1346.0,709.9 1346.5,709.8 1347.0,710.8 1347.5,710.6 1348.0,711.0 1348.5,709.8 1349.0,711.8 1349.5,710.0 1350.0,710.0 1350.5,710.6 1351.0,710.3 1351.5,711.5 1352.0,710.4 1352.5,710.3 1353.0,711.2 1353.5,711.4 1354.0,710.3 1354.5,710.6 1355.0,710.7 1355.5,710.8 1356.0,711.8 1356.5,711.6 1357.0,711.5 1357.5,711.6 1358.0,711.0 1358.5,711.5 1359.0,711.0 1359.5,710.7 1360.0,712.0 1360.5,710.3 1361.0,711.2 1361.5,710.9 1362.0,710.4 1362.5,711.1 1363.0,711.3 1363.5,711.5 1364.0,710.9 1364.5,711.7 1365.0,711.5 1365.5,711.8 1366.0,710.4 1366.5,711.2 1367.0,711.1 1367.5,711.8 1368.0,711.1 1368.5,711.3 1369.0,711.0 1369.5,711.0 1370.0,711.1 1370.5,712.1 1371.0,711.1 1371.5,710.4 1372.0,711.8 1372.5,711.4 1373.0,711.9 1373.5,712.0 1374.0,711.5 1374.5,711.5 1375.0,711.5 1375.5,711.7 1376.0,711.4 1376.5,711.9 1377.0,712.5 1377.5,711.5 1378.0,711.5 1378.5,711.5 1379.0,712.1 1379.5,712.2 1380.0,712.6 1380.5,712.2 1381.0,712.0 1381.5,712.1 1382.0,711.3 1382.5,712.2 1383.0,712.0 1383.5,713.0 1384.0,712.6 1384.5,711.6 1385.0,711.7 1385.5,712.4 1386.0,711.0 1386.5,711.5 1387.0,712.2 1387.5,712.3 1388.0,712.1 1388.5,712.6 1389.0,711.9 1389.5,712.1 1390.0,711.9 1390.5,711.5 1391.0,712.1 1391.5,711.8 1392.0,712.1 1392.5,710.8 1393.0,712.1 1393.5,711.8 1394.0,711.8 1394.5,712.1 1395.0,711.9 1395.5,712.5 1396.0,712.7 1396.5,712.5 1397.0,712.6 1397.5,712.3 1398.0,712.1 1398.5,711.5 1399.0,711.9 1399.5,712.7 1400.0,712.5 1400.5,711.9 1401.0,712.2 1401.5,712.6 1402.0,712.0 1402.5,712.9 1403.0,711.7 1403.5,712.5 1404.0,712.4 1404.5,712.2 1405.0,712.2 1405.5,712.3 1406.0,710.9 1406.5,712.3 1407.0,712.6 1407.5,712.2 1408.0,712.6 1408.5,711.4 1409.0,712.0 1409.5,712.2 1410.0,711.9 1410.5,712.6 1411.0,712.2 1411.5,711.7 1412.0,712.3 1412.5,712.3 1413.0,711.7 1413.5,712.2 1414.0,712.1 1414.5,712.0 1415.0,711.2 1415.5,712.5 1416.0,712.1 1416.5,711.8 1417.0,712.0 1417.5,711.9 1418.0,711.6 1418.5,711.4 1419.0,711.8 1419.5,711.4 1420.0,711.4 1420.5,711.1 1421.0,711.5 1421.5,712.1 1422.0,711.7 1422.5,711.6 1423.0,711.4 1423.5,711.3 1424.0,710.8 1424.5,712.3 1425.0,711.1 1425.5,710.7 1426.0,711.6 1426.5,711.5 1427.0,711.1 1427.5,710.6 1428.0,710.6 1428.5,712.0 1429.0,711.2 1429.5,710.9 1430.0,712.1 1430.5,710.9 1431.0,710.7 1431.5,711.4 1432.0,711.2 1432.5,711.8 1433.0,710.2 1433.5,711.1 1434.0,710.1 1434.5,711.1 1435.0,710.5 1435.5,710.6 1436.0,710.4 1436.5,711.2 1437.0,711.6 1437.5,710.7 1438.0,710.5 1438.5,710.3 1439.0,710.8 1439.5,709.9 1440.0,712.2 1440.5,710.2 1441.0,711.1 1441.5,710.2 1442.0,709.4 1442.5,709.2 1443.0,709.7 1443.5,709.4 1444.0,709.6 1444.5,709.0 1445.0,710.7 1445.5,710.5 1446.0,708.4 1446.5,709.4 1447.0,709.7 1447.5,708.8 1448.0,708.7 1448.5,709.2 1449.0,708.8 1449.5,707.8 1450.0,709.0 1450.5,707.9 1451.0,709.0 1451.5,707.5 1452.0,706.6 1452.5,707.7 1453.0,708.2 1453.5,707.7 1454.0,707.4 1454.5,706.7 1455.0,707.5 1455.5,706.0 1456.0,707.2 1456.5,706.0 1457.0,706.1 1457.5,705.6 1458.0,705.6 1458.5,706.7 1459.0,705.0 1459.5,705.6 1460.0,704.8 1460.5,705.6 1461.0,704.1 1461.5,704.6 1462.0,704.8 1462.5,705.3 1463.0,703.3 1463.5,703.2 1464.0,703.4 1464.5,704.1 1465.0,702.5 1465.5,703.3 1466.0,702.3 1466.5,701.9 1467.0,701.5 1467.5,702.2 1468.0,702.6 1468.5,701.8 1469.0,700.6 1469.5,701.4 1470.0,702.1 1470.5,702.0 1471.0,701.6 1471.5,702.3 1472.0,700.8 1472.5,700.8 1473.0,702.8 1473.5,701.9 1474.0,701.5 1474.5,701.5 1475.0,700.4 1475.5,702.4 1476.0,700.9 1476.5,701.1 1477.0,702.3 1477.5,703.3 1478.0,702.5 1478.5,703.1 1479.0,702.8 1479.5,703.4 1480.0,702.5 1480.5,704.7 1481.0,703.3 1481.5,704.3 1482.0,703.1 1482.5,705.3 1483.0,704.8 1483.5,705.8 1484.0,704.5 1484.5,705.6 1485.0,705.1 1485.5,705.3 1486.0,706.2 1486.5,705.2 1487.0,706.3 1487.5,707.1 1488.0,707.2 1488.5,707.0 1489.0,706.8 1489.5,706.4 1490.0,707.8 1490.5,706.9 1491.0,708.1 1491.5,707.6 1492.0,707.9 1492.5,708.1 1493.0,708.7 1493.5,708.3 1494.0,708.9 1494.5,708.7 1495.0,709.4 1495.5,709.5 1496.0,709.7 1496.5,709.2 1497.0,710.0 1497.5,710.0 1498.0,710.4 1498.5,710.3 1499.0,709.9 1499.5,710.9 1500.0,710.2 1500.5,710.8 1501.0,709.7 1501.5,711.0 1502.0,711.1 1502.5,710.4 1503.0,711.2 1503.5,710.7 1504.0,711.6 1504.5,711.3 1505.0,710.3 1505.5,710.9 1506.0,710.1 1506.5,710.9 1507.0,711.4 1507.5,711.5 1508.0,711.1 1508.5,711.1 1509.0,711.3 1509.5,710.9 1510.0,711.4 1510.5,711.9 1511.0,711.4 1511.5,711.8 1512.0,711.0 1512.5,711.2 1513.0,711.6 1513.5,712.5 1514.0,712.0 1514.5,712.4 1515.0,711.6 1515.5,712.2 1516.0,710.7 1516.5,711.9 1517.0,710.6 1517.5,712.3 1518.0,711.9 1518.5,712.3 1519.0,711.9 1519.5,711.5 1520.0,711.4 1520.5,711.9 1521.0,712.6 1521.5,712.1 1522.0,711.6 1522.5,711.6 1523.0,711.5 1523.5,711.8 1524.0,711.9 1524.5,711.7 1525.0,712.0 1525.5,711.2 1526.0,712.8 1526.5,712.1 1527.0,712.8 1527.5,712.2 1528.0,712.0 1528.5,712.1 1529.0,712.2 1529.5,711.8 1530.0,712.0 1530.5,713.1 1531.0,712.7 1531.5,711.9 1532.0,712.5 1532.5,711.8 1533.0,712.9 1533.5,711.7 1534.0,712.7 1534.5,712.3 1535.0,712.3 1535.5,711.9 1536.0,712.2 1536.5,712.0 1537.0,711.9 1537.5,712.6 1538.0,713.6 1538.5,712.2 1539.0,712.9 1539.5,712.4 1540.0,712.1 1540.5,713.1 1541.0,712.8 1541.5,713.0 1542.0,712.5 1542.5,712.5 1543.0,712.1 1543.5,712.4 1544.0,713.3 1544.5,711.4 1545.0,712.7 1545.5,713.3 1546.0,712.9 1546.5,713.0 1547.0,712.4 1547.5,713.1 1548.0,713.2 1548.5,712.6 1549.0,713.4 1549.5,712.4 1550.0,711.4 1550.5,712.6 1551.0,712.6 1551.5,712.2 1552.0,712.4 1552.5,712.4 1553.0,711.7 1553.5,713.3 1554.0,712.7 1554.5,714.0 1555.0,712.7 1555.5,712.9 1556.0,711.9 1556.5,713.2 1557.0,712.1 1557.5,712.9 1558.0,713.1 1558.5,713.1 1559.0,712.3 1559.5,712.3 1560.0,713.1 1560.5,713.3 1561.0,713.4 1561.5,712.7 1562.0,712.7 1562.5,713.6 1563.0,712.4 1563.5,713.1 1564.0,712.6 1564.5,712.0 1565.0,712.2 1565.5,712.9 1566.0,712.8 1566.5,713.0 1567.0,712.5 1567.5,712.5 1568.0,712.9 1568.5,712.6 1569.0,711.9 1569.5,712.5 1570.0,713.6 1570.5,712.3 1571.0,713.0 1571.5,712.7 1572.0,713.1 1572.5,712.3 1573.0,712.1 1573.5,712.9 1574.0,712.4 1574.5,712.7 1575.0,712.6 1575.5,713.2 1576.0,712.8 1576.5,712.8 1577.0,712.2 1577.5,711.9 1578.0,712.3 1578.5,713.1 1579.0,713.0 1579.5,713.0 1580.0,712.5 1580.5,712.2 1581.0,713.3 1581.5,712.8 1582.0,713.0 1582.5,712.2 1583.0,712.4 1583.5,713.0 1584.0,713.1 1584.5,712.2 1585.0,712.8 1585.5,712.1 1586.0,713.3 1586.5,713.0 1587.0,713.8 1587.5,713.4 1588.0,712.4 1588.5,712.8 1589.0,712.5 1589.5,712.8 1590.0,713.1 1590.5,712.7 1591.0,712.7 1591.5,712.0 1592.0,713.0 1592.5,712.7 1593.0,713.0 1593.5,713.2 1594.0,712.7 1594.5,713.0 1595.0,712.4 1595.5,713.2 1596.0,712.7 1596.5,712.4 1597.0,712.6 1597.5,712.0 1598.0,712.4 1598.5,712.5 1599.0,712.7 1599.5,712.7 1600.0,712.4 1600.5,712.6 1601.0,711.6 1601.5,712.7 1602.0,713.0 1602.5,713.1 1603.0,713.2 1603.5,712.6 1604.0,712.7 1604.5,712.5 1605.0,712.5 1605.5,712.8 1606.0,713.4 1606.5,711.9 1607.0,712.5 1607.5,712.8 1608.0,712.2 1608.5,712.9 1609.0,712.0 1609.5,712.5 1610.0,711.9 1610.5,712.8 1611.0,712.3 1611.5,713.0 1612.0,712.5 1612.5,712.2 1613.0,712.5 1613.5,712.7 1614.0,712.7 1614.5,712.6 1615.0,712.5 1615.5,712.7 1616.0,713.1 1616.5,712.4 1617.0,712.9 1617.5,712.0 1618.0,713.1 1618.5,712.9 1619.0,712.5 1619.5,712.5 1620.0,711.9 1620.5,712.7 1621.0,712.6 1621.5,712.0 1622.0,712.5 1622.5,713.0" fill="none" stroke="#ff8000" stroke-width="2.1" stroke-linejoin="round"/>
<path d="M177.9,1000.5 178.4,994.7 178.9,998.4 179.4,997.2 179.9,997.3 180.4,997.6 180.9,995.3 181.4,997.6 181.9,996.8 182.4,1002.1 182.9,998.1 183.4,997.4 183.9,997.5 184.4,997.0 184.9,996.5 185.4,997.3 185.9,998.4 186.4,997.4 186.9,998.9 187.4,997.5 187.9,997.7 188.4,999.6 188.9,998.3 189.4,997.0 189.9,997.4 190.4,998.3 190.9,1000.0 191.4,997.2 191.9,997.2 192.4,998.8 192.9,996.3 193.4,997.0 193.9,998.5 194.4,998.1 194.9,997.4 195.4,998.2 195.9,993.7 196.4,998.5 196.9,996.0 197.4,995.0 197.9,997.5 198.4,998.0 198.9,996.5 199.4,995.6 199.9,997.0 200.4,996.9 200.9,998.7 201.4,997.8 201.9,997.1 202.4,998.2 202.9,996.5 203.4,995.5 203.9,997.4 204.4,997.4 204.9,996.3 205.4,995.5 205.9,996.8 206.4,993.2 206.9,997.3 207.4,997.0 207.9,994.2 208.4,996.3 208.9,995.0 209.4,997.1 209.9,993.5 210.4,994.9 210.9,996.9 211.4,997.5 211.9,993.2 212.4,995.2 212.9,996.3 213.4,995.0 213.9,997.8 214.4,994.1 214.9,996.1 215.4,994.2 215.9,997.3 216.4,995.4 216.9,994.9 217.4,993.1 217.9,997.4 218.4,996.2 218.9,996.1 219.4,996.5 219.9,995.4 220.4,994.1 220.9,993.8 221.4,993.7 221.9,996.4 222.4,992.6 222.9,993.7 223.4,993.9 223.9,994.5 224.4,994.9 224.9,992.4 225.4,991.6 225.9,993.8 226.4,995.2 226.9,994.5 227.4,993.7 227.9,992.9 228.4,993.6 228.9,992.7 229.4,994.0 229.9,991.7 230.4,992.8 230.9,992.4 231.4,993.1 231.9,992.5 232.4,995.4 232.9,993.9 233.4,993.8 233.9,988.9 234.4,991.0 234.9,990.5 235.4,991.9 235.9,988.0 236.4,992.4 236.9,992.1 237.4,988.8 237.9,989.1 238.4,989.2 238.9,990.1 239.4,990.8 239.9,992.5 240.4,989.3 240.9,990.4 241.4,989.4 241.9,991.4 242.4,989.9 242.9,990.6 243.4,987.1 243.9,988.1 244.4,987.1 244.9,990.1 245.4,988.7 245.9,987.3 246.4,986.9 246.9,988.0 247.4,986.2 247.9,985.7 248.4,987.4 248.9,990.0 249.4,986.1 249.9,985.5 250.4,984.5 250.9,984.1 251.4,986.4 251.9,986.7 252.4,985.3 252.9,985.6 253.4,985.1 253.9,984.9 254.4,982.4 254.9,983.7 255.4,984.3 255.9,982.8 256.4,983.0 256.9,982.3 257.4,982.8 257.9,984.2 258.4,982.2 258.9,982.3 259.4,983.4 259.9,983.0 260.4,984.2 260.9,978.6 261.4,982.5 261.9,980.4 262.4,981.0 262.9,981.7 263.4,981.8 263.9,981.5 264.4,980.0 264.9,981.8 265.4,978.8 265.9,978.7 266.4,979.8 266.9,977.5 267.4,981.1 267.9,979.2 268.4,980.5 268.9,977.1 269.4,976.2 269.9,976.7 270.4,977.2 270.9,975.0 271.4,976.0 271.9,975.1 272.4,977.1 272.9,973.4 273.4,975.5 273.9,972.5 274.4,971.6 274.9,971.5 275.4,970.2 275.9,971.7 276.4,972.4 276.9,970.6 277.4,970.7 277.9,971.7 278.4,969.0 278.9,968.4 279.4,967.1 279.9,964.5 280.4,967.5 280.9,963.1 281.4,966.3 281.9,964.7 282.4,966.0 282.9,963.6 283.4,962.0 283.9,963.4 284.4,961.6 284.9,961.8 285.4,961.8 285.9,961.2 286.4,960.7 286.9,959.4 287.4,960.0 287.9,956.6 288.4,959.4 288.9,957.4 289.4,960.7 289.9,960.6 290.4,955.3 290.9,958.3 291.4,957.7 291.9,956.0 292.4,958.3 292.9,956.6 293.4,954.4 293.9,956.7 294.4,956.9 294.9,957.3 295.4,955.3 295.9,958.4 296.4,958.9 296.9,956.2 297.4,957.4 297.9,958.7 298.4,958.4 298.9,962.5 299.4,960.7 299.9,959.4 300.4,960.4 300.9,962.1 301.4,966.4 301.9,963.3 302.4,964.4 302.9,965.7 303.4,965.5 303.9,969.7 304.4,966.1 304.9,968.6 305.4,968.4 305.9,969.7 306.4,967.6 306.9,972.6 307.4,970.5 307.9,971.4 308.4,970.7 308.9,971.7 309.4,974.4 309.9,975.7 310.4,976.2 310.9,977.6 311.4,977.6 311.9,977.4 312.4,979.3 312.9,979.7 313.4,979.5 313.9,981.4 314.4,982.9 314.9,982.1 315.4,981.9 315.9,984.0 316.4,986.3 316.9,983.9 317.4,984.6 317.9,985.1 318.4,987.5 318.9,983.8 319.4,987.4 319.9,989.0 320.4,986.8 320.9,990.5 321.4,989.7 321.9,988.8 322.4,990.3 322.9,988.5 323.4,990.3 323.9,993.9 324.4,990.8 324.9,994.9 325.4,992.8 325.9,994.6 326.4,993.8 326.9,991.3 327.4,993.8 327.9,995.2 328.4,993.9 328.9,994.0 329.4,996.5 329.9,995.5 330.4,994.5 330.9,996.1 331.4,998.3 331.9,996.9 332.4,998.9 332.9,999.8 333.4,998.1 333.9,996.8 334.4,996.8 334.9,998.6 335.4,999.9 335.9,999.3 336.4,999.8 336.9,998.8 337.4,999.9 337.9,999.1 338.4,999.4 338.9,998.4 339.4,998.2 339.9,999.7 340.4,999.0 340.9,999.4 341.4,1001.5 341.9,1000.7 342.4,1004.6 342.9,1002.3 343.4,1000.5 343.9,1002.3 344.4,1002.0 344.9,1000.8 345.4,1003.1 345.9,1000.9 346.4,998.2 346.9,1003.1 347.4,1001.5 347.9,1004.2 348.4,1001.6 348.9,1001.1 349.4,1004.5 349.9,1001.4 350.4,1003.1 350.9,1004.7 351.4,1003.2 351.9,1003.0 352.4,1003.3 352.9,1004.3 353.4,1002.4 353.9,1004.2 354.4,1004.3 354.9,1006.5 355.4,1003.3 355.9,1002.7 356.4,1004.8 356.9,1003.5 357.4,1004.4 357.9,1004.2 358.4,1005.6 358.9,1003.4 359.4,1004.2 359.9,1001.2 360.4,1003.3 360.9,1006.3 361.4,1003.7 361.9,1003.7 362.4,1003.1 362.9,1005.4 363.4,1004.9 363.9,1003.3 364.4,1005.6 364.9,1005.2 365.4,1005.8 365.9,1004.2 366.4,1007.1 366.9,1005.6 367.4,1005.0 367.9,1004.6 368.4,1004.9 368.9,1006.3 369.4,1005.0 369.9,1006.7 370.4,1006.1 370.9,1007.1 371.4,1006.5 371.9,1005.5 372.4,1003.3 372.9,1006.0 373.4,1006.7 373.9,1006.0 374.4,1006.5 374.9,1005.3 375.4,1005.4 375.9,1004.8 376.4,1007.6 376.9,1006.2 377.4,1005.5 377.9,1004.5 378.4,1006.0 378.9,1007.9 379.4,1006.8 379.9,1005.4 380.4,1008.0 380.9,1008.0 381.4,1007.5 381.9,1007.3 382.4,1007.8 382.9,1007.1 383.4,1007.4 383.9,1005.6 384.4,1008.3 384.9,1006.8 385.4,1009.0 385.9,1004.2 386.4,1007.5 386.9,1007.8 387.4,1006.3 387.9,1007.3 388.4,1007.6 388.9,1007.4 389.4,1006.1 389.9,1006.6 390.4,1008.0 390.9,1008.3 391.4,1007.0 391.9,1006.9 392.4,1007.1 392.9,1008.1 393.4,1005.6 393.9,1005.3 394.4,1007.0 394.9,1005.6 395.4,1006.2 395.9,1007.0 396.4,1007.5 396.9,1005.6 397.4,1007.8 397.9,1004.8 398.4,1007.5 398.9,1005.0 399.4,1005.4 399.9,1007.6 400.4,1006.4 400.9,1005.9 401.4,1006.3 401.9,1007.4 402.4,1006.8 402.9,1006.8 403.4,1008.0 403.9,1005.9 404.4,1006.2 404.9,1006.1 405.4,1008.1 405.9,1007.9 406.4,1008.2 406.9,1006.6 407.4,1006.5 407.9,1007.6 408.4,1006.1 408.9,1007.6 409.4,1007.4 409.9,1005.7 410.4,1006.4 410.9,1006.4 411.4,1008.5 411.9,1009.5 412.4,1006.3 412.9,1006.4 413.4,1003.7 413.9,1006.6 414.4,1006.3 414.9,1005.0 415.4,1007.2 415.9,1004.4 416.4,1005.9 416.9,1006.3 417.4,1004.6 417.9,1007.1 418.4,1007.3 418.9,1004.4 419.4,1004.3 419.9,1006.7 420.4,1005.9 420.9,1004.5 421.4,1005.5 421.9,1005.7 422.4,1005.6 422.9,1006.8 423.4,1006.2 423.9,1007.8 424.4,1007.3 424.9,1006.5 425.4,1006.9 425.9,1007.2 426.4,1006.4 426.9,1004.0 427.4,1006.5 427.9,1005.5 428.4,1007.4 428.9,1005.5 429.4,1006.0 429.9,1005.7 430.4,1007.3 430.9,1005.5 431.4,1004.9 431.9,1005.5 432.4,1004.6 432.9,1005.3 433.4,1005.1 433.9,1005.4 434.4,1007.3 434.9,1004.5 435.4,1005.0 435.9,1004.7 436.4,1005.7 436.9,1003.4 437.4,1004.0 437.9,1004.7 438.4,1005.4 438.9,1004.7 439.4,1004.1 439.9,1003.6 440.4,1005.3 440.9,1006.4 441.4,1005.0 441.9,1004.8 442.4,1005.1 442.9,1003.4 443.4,1004.1 443.9,1004.1 444.4,1004.8 444.9,1004.4 445.4,1002.9 445.9,1005.7 446.4,1006.4 446.9,1004.0 447.4,1004.8 447.9,1004.6 448.4,1005.2 448.9,1002.4 449.4,1006.2 449.9,1003.6 450.4,1005.7 450.9,1004.3 451.4,1003.7 451.9,1003.9 452.4,1005.2 452.9,1003.0 453.4,1003.6 453.9,1003.4 454.4,1001.9 454.9,1005.6 455.4,1004.7 455.9,1003.9 456.4,1005.3 456.9,1002.7 457.4,1003.8 457.9,1006.0 458.4,1005.0 458.9,1001.1 459.4,999.7 459.9,1002.5 460.4,1005.0 460.9,1003.1 461.4,1003.4 461.9,1004.4 462.4,1002.6 462.9,1003.9 463.4,1004.6 463.9,1004.1 464.4,1004.0 464.9,1002.8 465.4,1004.1 465.9,1003.0 466.4,1005.0 466.9,1006.6 467.4,1002.5 467.9,1000.7 468.4,1002.8 468.9,1003.8 469.4,1004.6 469.9,1004.6 470.4,1002.3 470.9,1002.2 471.4,1004.7 471.9,1001.8 472.4,1004.4 472.9,1002.8 473.4,1004.0 473.9,1003.9 474.4,1003.9 474.9,1003.9 475.4,1001.7 475.9,1003.2 476.4,1002.8 476.9,1003.1 477.4,1004.2 477.9,1002.3 478.4,1001.8 478.9,1001.7 479.4,1002.2 479.9,1003.4 480.4,1001.5 480.9,1003.8 481.4,1002.7 481.9,1002.0 482.4,1000.6 482.9,1002.5 483.4,1003.0 483.9,999.9 484.4,1003.5 484.9,1003.9 485.4,1002.2 485.9,1002.4 486.4,1004.7 486.9,1003.1 487.4,1000.4 487.9,1001.4 488.4,1001.1 488.9,1001.0 489.4,998.2 489.9,1002.0 490.4,1000.1 490.9,1001.0 491.4,1000.6 491.9,1001.7 492.4,1000.1 492.9,999.4 493.4,1001.0 493.9,1001.9 494.4,999.7 494.9,1001.7 495.4,1000.2 495.9,999.0 496.4,1001.5 496.9,998.4 497.4,1000.6 497.9,998.6 498.4,999.7 498.9,997.4 499.4,997.8 499.9,1000.1 500.4,998.8 500.9,998.5 501.4,997.8 501.9,998.8 502.4,996.3 502.9,996.5 503.4,997.6 503.9,996.6 504.4,996.6 504.9,997.3 505.4,997.1 505.9,996.8 506.4,999.1 506.9,998.1 507.4,998.2 507.9,996.4 508.4,995.7 508.9,994.3 509.4,995.6 509.9,993.2 510.4,994.9 510.9,996.5 511.4,997.4 511.9,996.4 512.4,993.9 512.9,995.4 513.4,993.6 513.9,995.5 514.4,994.1 514.9,995.1 515.4,997.2 515.9,994.8 516.4,996.4 516.9,993.4 517.4,992.5 517.9,994.5 518.4,994.8 518.9,991.6 519.4,992.1 519.9,989.9 520.4,991.3 520.9,992.5 521.4,990.9 521.9,990.0 522.4,988.7 522.9,990.8 523.4,991.1 523.9,990.5 524.4,989.8 524.9,987.4 525.4,991.2 525.9,988.5 526.4,988.0 526.9,988.9 527.4,984.6 527.9,987.1 528.4,986.6 528.9,986.9 529.4,987.8 529.9,986.2 530.4,982.6 530.9,984.2 531.4,984.5 531.9,983.9 532.4,981.5 532.9,980.4 533.4,982.9 533.9,982.1 534.4,981.0 534.9,978.0 535.4,982.4 535.9,975.1 536.4,978.1 536.9,981.0 537.4,977.1 537.9,976.9 538.4,974.2 538.9,977.1 539.4,972.5 539.9,973.9 540.4,972.8 540.9,970.1 541.4,971.9 541.9,967.4 542.4,967.4 542.9,967.1 543.4,965.3 543.9,965.4 544.4,964.7 544.9,961.5 545.4,959.6 545.9,958.2 546.4,956.9 546.9,957.2 547.4,954.0 547.9,953.4 548.4,950.8 548.9,947.7 549.4,948.5 549.9,943.3 550.4,942.8 550.9,942.9 551.4,936.2 551.9,935.5 552.4,930.3 552.9,929.6 553.4,925.2 553.9,924.6 554.4,921.6 554.9,920.2 555.4,920.1 555.9,915.0 556.4,912.9 556.9,908.8 557.4,905.5 557.9,901.4 558.4,896.6 558.9,897.0 559.4,896.9 559.9,891.6 560.4,886.4 560.9,887.5 561.4,880.1 561.9,876.4 562.4,871.7 562.9,868.5 563.4,866.3 563.9,867.1 564.4,858.7 564.9,853.1 565.4,850.1 565.9,847.1 566.4,840.1 566.9,840.4 567.4,838.1 567.9,833.8 568.4,831.2 568.9,823.8 569.4,819.6 569.9,823.0 570.4,819.4 570.9,810.3 571.4,811.1 571.9,807.7 572.4,806.0 572.9,802.4 573.4,798.1 573.9,797.3 574.4,794.9 574.9,792.3 575.4,786.1 575.9,781.5 576.4,785.0 576.9,781.3 577.4,784.1 577.9,783.7 578.4,781.1 578.9,778.2 579.4,777.9 579.9,779.2 580.4,773.3 580.9,776.1 581.4,774.4 581.9,772.1 582.4,773.7 582.9,767.1 583.4,769.9 583.9,764.1 584.4,763.6 584.9,762.4 585.4,766.0 585.9,762.8 586.4,765.6 586.9,763.1 587.4,769.2 587.9,771.8 588.4,768.8 588.9,773.2 589.4,771.7 589.9,776.7 590.4,772.9 590.9,770.1 591.4,779.0 591.9,777.2 592.4,777.5 592.9,781.2 593.4,782.0 593.9,788.7 594.4,789.9 594.9,799.1 595.4,800.3 595.9,798.1 596.4,801.6 596.9,807.1 597.4,807.4 597.9,815.0 598.4,818.7 598.9,820.6 599.4,824.7 599.9,830.6 600.4,836.3 600.9,840.1 601.4,840.6 601.9,846.0 602.4,846.3 602.9,852.5 603.4,853.5 603.9,861.0 604.4,860.9 604.9,865.5 605.4,871.5 605.9,876.6 606.4,876.6 606.9,882.3 607.4,887.4 607.9,891.3 608.4,892.8 608.9,897.9 609.4,900.5 609.9,906.8 610.4,908.4 610.9,908.1 611.4,909.6 611.9,916.8 612.4,921.7 612.9,922.8 613.4,926.8 613.9,927.1 614.4,928.1 614.9,934.2 615.4,935.3 615.9,938.5 616.4,937.1 616.9,941.8 617.4,942.4 617.9,946.8 618.4,946.5 618.9,948.3 619.4,950.2 619.9,955.0 620.4,954.7 620.9,955.1 621.4,956.3 621.9,957.8 622.4,963.1 622.9,959.4 623.4,962.1 623.9,965.5 624.4,967.3 624.9,966.3 625.4,968.5 625.9,969.4 626.4,970.5 626.9,970.0 627.4,973.2 627.9,971.9 628.4,974.6 628.9,971.5 629.4,975.2 629.9,972.7 630.4,973.1 630.9,976.7 631.4,975.4 631.9,977.9 632.4,976.3 632.9,980.7 633.4,978.9 633.9,977.8 634.4,980.1 634.9,981.5 635.4,979.6 635.9,981.8 636.4,984.2 636.9,982.8 637.4,981.8 637.9,981.2 638.4,983.0 638.9,980.2 639.4,978.2 639.9,981.6 640.4,981.1 640.9,985.2 641.4,983.0 641.9,981.6 642.4,981.4 642.9,983.8 643.4,982.1 643.9,982.5 644.4,983.3 644.9,983.6 645.4,983.7 645.9,983.8 646.4,985.5 646.9,986.2 647.4,981.6 647.9,987.5 648.4,984.2 648.9,985.8 649.4,983.1 649.9,984.6 650.4,984.5 650.9,984.4 651.4,985.5 651.9,985.2 652.4,983.0 652.9,984.2 653.4,985.4 653.9,985.4 654.4,984.0 654.9,984.1 655.4,984.3 655.9,983.0 656.4,982.7 656.9,986.7 657.4,983.9 657.9,984.6 658.4,983.4 658.9,986.2 659.4,986.8 659.9,984.0 660.4,985.0 660.9,983.1 661.4,986.5 661.9,985.3 662.4,982.8 662.9,985.6 663.4,984.2 663.9,984.2 664.4,984.0 664.9,982.5 665.4,982.5 665.9,984.0 666.4,982.9 666.9,981.5 667.4,985.5 667.9,982.2 668.4,981.6 668.9,981.2 669.4,983.0 669.9,983.2 670.4,982.0 670.9,982.7 671.4,979.2 671.9,980.6 672.4,980.2 672.9,980.7 673.4,981.2 673.9,977.4 674.4,984.5 674.9,978.6 675.4,980.1 675.9,980.5 676.4,980.2 676.9,978.9 677.4,974.0 677.9,976.1 678.4,978.3 678.9,975.4 679.4,974.6 679.9,972.2 680.4,976.7 680.9,975.1 681.4,972.4 681.9,972.9 682.4,972.2 682.9,970.1 683.4,970.6 683.9,970.7 684.4,970.4 684.9,970.7 685.4,968.2 685.9,966.7 686.4,967.3 686.9,965.0 687.4,963.3 687.9,966.2 688.4,963.2 688.9,963.2 689.4,963.3 689.9,959.8 690.4,961.7 690.9,960.6 691.4,958.9 691.9,958.9 692.4,956.2 692.9,953.1 693.4,955.2 693.9,953.3 694.4,955.2 694.9,953.3 695.4,951.1 695.9,951.1 696.4,952.2 696.9,950.9 697.4,948.6 697.9,947.7 698.4,945.6 698.9,944.8 699.4,944.9 699.9,942.7 700.4,942.2 700.9,938.7 701.4,936.5 701.9,935.2 702.4,936.0 702.9,937.7 703.4,936.1 703.9,931.0 704.4,928.7 704.9,931.4 705.4,929.5 705.9,925.0 706.4,928.0 706.9,925.2 707.4,926.0 707.9,923.1 708.4,923.0 708.9,921.0 709.4,917.6 709.9,917.8 710.4,915.8 710.9,917.3 711.4,912.8 711.9,910.7 712.4,913.6 712.9,913.3 713.4,912.8 713.9,911.2 714.4,905.5 714.9,906.2 715.4,905.7 715.9,906.1 716.4,901.7 716.9,905.4 717.4,905.8 717.9,903.5 718.4,905.5 718.9,907.7 719.4,905.7 719.9,907.9 720.4,908.1 720.9,907.3 721.4,907.7 721.9,906.7 722.4,910.2 722.9,907.5 723.4,907.7 723.9,910.9 724.4,908.8 724.9,911.6 725.4,913.4 725.9,912.3 726.4,913.1 726.9,915.3 727.4,915.7 727.9,912.3 728.4,913.4 728.9,918.9 729.4,918.0 729.9,914.5 730.4,916.8 730.9,920.4 731.4,919.8 731.9,923.6 732.4,924.3 732.9,926.4 733.4,925.0 733.9,929.6 734.4,933.4 734.9,930.3 735.4,935.5 735.9,936.5 736.4,937.6 736.9,938.0 737.4,937.8 737.9,939.8 738.4,944.2 738.9,946.0 739.4,947.9 739.9,949.0 740.4,950.3 740.9,949.5 741.4,949.8 741.9,953.5 742.4,955.5 742.9,956.3 743.4,955.4 743.9,958.5 744.4,958.6 744.9,962.6 745.4,962.3 745.9,965.2 746.4,967.4 746.9,968.6 747.4,971.8 747.9,969.6 748.4,969.4 748.9,975.3 749.4,977.2 749.9,978.4 750.4,977.9 750.9,979.3 751.4,979.7 751.9,978.7 752.4,980.6 752.9,983.0 753.4,982.4 753.9,986.7 754.4,982.8 754.9,985.1 755.4,988.0 755.9,986.5 756.4,986.5 756.9,987.0 757.4,988.5 757.9,992.2 758.4,991.4 758.9,992.2 759.4,991.4 759.9,993.8 760.4,993.4 760.9,992.6 761.4,993.8 761.9,995.1 762.4,996.8 762.9,995.7 763.4,996.8 763.9,999.1 764.4,995.9 764.9,995.8 765.4,999.0 765.9,998.7 766.4,998.3 766.9,999.2 767.4,998.8 767.9,1000.2 768.4,999.4 768.9,1001.2 769.4,999.0 769.9,999.8 770.4,1001.2 770.9,1000.8 771.4,1002.5 771.9,1001.9 772.4,1001.5 772.9,1002.7 773.4,1002.1 773.9,1001.0 774.4,1001.8 774.9,1002.4 775.4,1003.1 775.9,1004.0 776.4,1005.1 776.9,1004.9 777.4,1006.6 777.9,1006.1 778.4,1004.5 778.9,1006.9 779.4,1006.5 779.9,1004.7 780.4,1005.8 780.9,1006.9 781.4,1006.0 781.9,1007.1 782.4,1006.5 782.9,1007.0 783.4,1005.9 783.9,1006.9 784.4,1006.2 784.9,1007.6 785.4,1004.9 785.9,1007.4 786.4,1008.7 786.9,1008.0 787.4,1007.4 787.9,1008.2 788.4,1006.7 788.9,1006.9 789.4,1007.5 789.9,1007.9 790.4,1009.3 790.9,1007.2 791.4,1009.6 791.9,1006.7 792.4,1007.7 792.9,1008.6 793.4,1010.1 793.9,1008.1 794.4,1006.4 794.9,1009.5 795.4,1009.0 795.9,1007.9 796.4,1008.0 796.9,1008.4 797.4,1009.4 797.9,1010.1 798.4,1007.6 798.9,1012.0 799.4,1009.3 799.9,1008.9 800.4,1010.1 800.9,1009.5 801.4,1012.1 801.9,1010.6 802.4,1008.9 802.9,1008.9 803.4,1008.8 803.9,1009.0 804.4,1010.1 804.9,1008.6 805.4,1011.2 805.9,1009.3 806.4,1009.2 806.9,1010.5 807.4,1007.1 807.9,1008.3 808.4,1010.0 808.9,1009.4 809.4,1009.3 809.9,1009.8 810.4,1008.7 810.9,1009.2 811.4,1007.8 811.9,1007.2 812.4,1010.8 812.9,1008.3 813.4,1008.5 813.9,1011.0 814.4,1010.6 814.9,1008.7 815.4,1008.7 815.9,1009.3 816.4,1008.2 816.9,1010.0 817.4,1009.5 817.9,1009.5 818.4,1010.2 818.9,1010.2 819.4,1011.5 819.9,1011.1 820.4,1007.4 820.9,1010.4 821.4,1008.1 821.9,1007.7 822.4,1010.2 822.9,1008.6 823.4,1009.0 823.9,1010.6 824.4,1008.6 824.9,1008.4 825.4,1009.8 825.9,1010.8 826.4,1010.0 826.9,1007.6 827.4,1008.7 827.9,1009.3 828.4,1011.7 828.9,1010.5 829.4,1010.5 829.9,1010.9 830.4,1009.1 830.9,1010.1 831.4,1010.1 831.9,1008.4 832.4,1009.5 832.9,1010.2 833.4,1008.3 833.9,1010.5 834.4,1010.5 834.9,1010.8 835.4,1008.7 835.9,1009.8 836.4,1011.4 836.9,1010.6 837.4,1008.8 837.9,1010.0 838.4,1011.4 838.9,1009.7 839.4,1010.2 839.9,1012.8 840.4,1009.8 840.9,1009.7 841.4,1008.7 841.9,1009.1 842.4,1011.6 842.9,1009.7 843.4,1008.5 843.9,1008.9 844.4,1010.0 844.9,1010.9 845.4,1009.1 845.9,1010.8 846.4,1009.5 846.9,1010.5 847.4,1010.7 847.9,1010.8 848.4,1009.6 848.9,1009.9 849.4,1010.7 849.9,1008.7 850.4,1010.4 850.9,1010.8 851.4,1011.4 851.9,1010.2 852.4,1010.1 852.9,1010.5 853.4,1009.5 853.9,1010.1 854.4,1010.8 854.9,1010.7 855.4,1009.2 855.9,1010.1 856.4,1008.0 856.9,1011.4 857.4,1009.9 857.9,1010.8 858.4,1009.3 858.9,1010.5 859.4,1011.1 859.9,1011.8 860.4,1009.1 860.9,1011.6 861.4,1010.5 861.9,1009.8 862.4,1011.3 862.9,1010.4 863.4,1010.5 863.9,1010.0 864.4,1011.1 864.9,1010.9 865.4,1010.7 865.9,1009.8 866.4,1010.4 866.9,1011.4 867.4,1012.5 867.9,1011.0 868.4,1012.7 868.9,1011.1 869.4,1009.8 869.9,1011.8 870.4,1010.0 870.9,1011.6 871.4,1012.4 871.9,1010.9 872.4,1011.1 872.9,1014.1 873.4,1011.6 873.9,1011.6 874.4,1012.2 874.9,1011.2 875.4,1011.3 875.9,1011.8 876.4,1008.7 876.9,1013.1 877.4,1010.3 877.9,1010.3 878.4,1012.1 878.9,1011.6 879.4,1010.1 879.9,1011.8 880.4,1010.3 880.9,1010.8 881.4,1009.9 881.9,1010.7 882.4,1012.1 882.9,1011.9 883.4,1012.1 883.9,1012.8 884.4,1011.7 884.9,1011.0 885.4,1011.5 885.9,1013.7 886.4,1011.9 886.9,1012.2 887.4,1011.8 887.9,1012.2 888.4,1012.4 888.9,1011.9 889.4,1011.8 889.9,1011.1 890.4,1011.0 890.9,1012.5 891.4,1012.9 891.9,1013.1 892.4,1012.1 892.9,1011.1 893.4,1012.8 893.9,1012.8 894.4,1010.4 894.9,1013.0 895.4,1012.8 895.9,1014.0 896.4,1010.9 896.9,1010.8 897.4,1013.1 897.9,1010.2 898.4,1011.4 898.9,1011.0 899.4,1011.1 899.9,1010.1 900.4,1012.0 900.9,1013.4 901.4,1012.8 901.9,1012.9 902.4,1012.0 902.9,1014.0 903.4,1013.0 903.9,1013.6 904.4,1010.7 904.9,1012.9 905.4,1011.2 905.9,1012.9 906.4,1012.7 906.9,1011.3 907.4,1012.8 907.9,1013.9 908.4,1013.2 908.9,1013.3 909.4,1011.7 909.9,1011.9 910.4,1011.4 910.9,1012.8 911.4,1014.0 911.9,1013.2 912.4,1012.7 912.9,1011.5 913.4,1013.3 913.9,1012.5 914.4,1010.7 914.9,1010.9 915.4,1012.5 915.9,1011.8 916.4,1014.7 916.9,1012.9 917.4,1011.7 917.9,1012.4 918.4,1014.7 918.9,1011.9 919.4,1013.8 919.9,1013.5 920.4,1014.6 920.9,1013.6 921.4,1012.6 921.9,1013.6 922.4,1013.1 922.9,1014.2 923.4,1013.0 923.9,1015.3 924.4,1013.0 924.9,1013.6 925.4,1012.4 925.9,1013.3 926.4,1013.2 926.9,1013.4 927.4,1014.2 927.9,1012.7 928.4,1012.3 928.9,1014.5 929.4,1013.0 929.9,1012.6 930.4,1014.6 930.9,1014.2 931.4,1010.4 931.9,1013.0 932.4,1014.3 932.9,1014.3 933.4,1012.9 933.9,1015.2 934.4,1012.6 934.9,1013.2 935.4,1013.6 935.9,1013.5 936.4,1014.4 936.9,1014.7 937.4,1013.5 937.9,1015.1 938.4,1012.8 938.9,1013.4 939.4,1015.5 939.9,1013.7 940.4,1014.8 940.9,1013.2 941.4,1013.4 941.9,1013.6 942.4,1013.9 942.9,1013.3 943.4,1013.7 943.9,1014.5 944.4,1015.1 944.9,1013.9 945.4,1014.5 945.9,1014.8 946.4,1012.6 946.9,1012.0 947.4,1015.6 947.9,1015.3 948.4,1013.9 948.9,1014.2 949.4,1012.8 949.9,1012.3 950.4,1014.2 950.9,1012.2 951.4,1014.9 951.9,1013.1 952.4,1014.2 952.9,1016.0 953.4,1016.0 953.9,1013.6 954.4,1015.1 954.9,1012.8 955.4,1013.3 955.9,1014.4 956.4,1015.5 956.9,1013.3 957.4,1014.6 957.9,1014.1 958.4,1012.6 958.9,1013.8 959.4,1015.6 959.9,1013.9 960.4,1014.5 960.9,1014.9 961.4,1013.2 961.9,1015.4 962.4,1015.7 962.9,1015.8 963.4,1015.5 963.9,1013.5 964.4,1013.4 964.9,1013.1 965.4,1013.0 965.9,1013.1 966.4,1015.1 966.9,1015.6 967.4,1013.3 967.9,1014.9 968.4,1012.6 968.9,1013.7 969.4,1012.9 969.9,1012.2 970.4,1014.1 970.9,1014.1 971.4,1013.6 971.9,1013.4 972.4,1012.9 972.9,1013.9 973.4,1013.3 973.9,1014.3 974.4,1012.7 974.9,1014.3 975.4,1014.6 975.9,1015.4 976.4,1015.2 976.9,1014.2 977.4,1013.2 977.9,1012.0 978.4,1014.0 978.9,1015.6 979.4,1015.8 979.9,1011.2 980.4,1013.1 980.9,1013.6 981.4,1012.8 981.9,1014.2 982.4,1014.0 982.9,1013.4 983.4,1013.9 983.9,1012.2 984.4,1012.9 984.9,1013.0 985.4,1015.0 985.9,1012.1 986.4,1013.7 986.9,1014.8 987.4,1013.9 987.9,1014.8 988.4,1013.2 988.9,1014.4 989.4,1014.9 989.9,1016.4 990.4,1014.7 990.9,1015.5 991.4,1013.9 991.9,1014.0 992.4,1015.7 992.9,1014.6 993.4,1015.5 993.9,1014.7 994.4,1016.3 994.9,1016.5 995.4,1013.0 995.9,1016.0 996.4,1014.4 996.9,1014.4 997.4,1013.7 997.9,1014.7 998.4,1012.6 998.9,1013.1 999.4,1013.0 999.9,1014.2 1000.4,1014.9 1000.9,1014.7 1001.4,1014.3 1001.9,1013.2 1002.4,1011.9 1002.9,1014.3 1003.4,1014.0 1003.9,1014.2 1004.4,1015.4 1004.9,1013.6 1005.4,1013.6 1005.9,1011.2 1006.4,1014.4 1006.9,1013.7 1007.4,1012.9 1007.9,1014.2 1008.4,1012.6 1008.9,1013.1 1009.4,1015.9 1009.9,1014.6 1010.4,1014.8 1010.9,1014.6 1011.4,1014.4 1011.9,1013.9 1012.4,1016.3 1012.9,1013.6 1013.4,1014.5 1013.9,1013.4 1014.4,1013.3 1014.9,1010.9 1015.4,1011.5 1015.9,1015.4 1016.4,1015.3 1016.9,1013.1 1017.4,1013.6 1017.9,1014.3 1018.4,1012.5 1018.9,1015.6 1019.4,1012.4 1019.9,1012.8 1020.4,1010.5 1020.9,1015.3 1021.4,1013.6 1021.9,1015.4 1022.4,1012.4 1022.9,1013.9 1023.4,1013.6 1023.9,1013.7 1024.4,1015.8 1024.9,1016.0 1025.4,1015.0 1025.9,1013.0 1026.4,1014.5 1026.9,1015.0 1027.4,1014.1 1027.9,1014.1 1028.4,1014.0 1028.9,1012.4 1029.4,1013.7 1029.9,1015.2 1030.4,1012.3 1030.9,1013.5 1031.4,1014.3 1031.9,1011.8 1032.4,1013.2 1032.9,1011.4 1033.4,1012.6 1033.9,1011.7 1034.4,1012.3 1034.9,1012.7 1035.4,1013.0 1035.9,1013.0 1036.4,1010.6 1036.9,1015.0 1037.4,1012.9 1037.9,1012.0 1038.4,1012.5 1038.9,1013.6 1039.4,1012.1 1039.9,1012.7 1040.4,1012.6 1040.9,1013.8 1041.4,1012.3 1041.9,1013.7 1042.4,1013.5 1042.9,1013.0 1043.4,1014.5 1043.9,1013.1 1044.4,1011.8 1044.9,1013.4 1045.4,1013.2 1045.9,1013.0 1046.4,1013.3 1046.9,1015.7 1047.4,1013.3 1047.9,1013.5 1048.4,1012.7 1048.9,1014.4 1049.4,1012.9 1049.9,1012.0 1050.4,1011.5 1050.9,1013.5 1051.4,1013.7 1051.9,1011.1 1052.4,1012.0 1052.9,1013.5 1053.4,1013.9 1053.9,1011.3 1054.4,1012.3 1054.9,1013.6 1055.4,1012.1 1055.9,1012.2 1056.4,1012.0 1056.9,1011.1 1057.4,1012.6 1057.9,1012.9 1058.4,1010.9 1058.9,1012.6 1059.4,1013.7 1059.9,1012.7 1060.4,1013.5 1060.9,1011.8 1061.4,1013.9 1061.9,1011.4 1062.4,1014.4 1062.9,1011.7 1063.4,1011.4 1063.9,1011.2 1064.4,1011.7 1064.9,1011.6 1065.4,1011.3 1065.9,1011.7 1066.4,1012.8 1066.9,1013.0 1067.4,1011.5 1067.9,1013.3 1068.4,1010.7 1068.9,1010.6 1069.4,1010.5 1069.9,1012.4 1070.4,1009.9 1070.9,1010.1 1071.4,1013.1 1071.9,1013.5 1072.4,1013.0 1072.9,1009.8 1073.4,1011.4 1073.9,1012.3 1074.4,1011.4 1074.9,1009.4 1075.4,1010.9 1075.9,1009.3 1076.4,1009.7 1076.9,1013.6 1077.4,1011.8 1077.9,1009.3 1078.4,1009.2 1078.9,1011.4 1079.4,1010.2 1079.9,1011.5 1080.4,1010.0 1080.9,1010.5 1081.4,1010.9 1081.9,1009.4 1082.4,1008.3 1082.9,1009.1 1083.4,1009.6 1083.9,1010.1 1084.4,1010.2 1084.9,1010.1 1085.4,1010.7 1085.9,1008.9 1086.4,1011.5 1086.9,1012.1 1087.4,1010.1 1087.9,1009.8 1088.4,1011.0 1088.9,1010.2 1089.4,1009.5 1089.9,1009.0 1090.4,1008.2 1090.9,1007.6 1091.4,1009.7 1091.9,1010.2 1092.4,1007.4 1092.9,1008.5 1093.4,1008.7 1093.9,1007.8 1094.4,1007.3 1094.9,1007.6 1095.4,1005.6 1095.9,1007.7 1096.4,1007.3 1096.9,1010.0 1097.4,1008.5 1097.9,1006.8 1098.4,1007.1 1098.9,1009.0 1099.4,1008.7 1099.9,1006.9 1100.4,1006.3 1100.9,1004.6 1101.4,1005.8 1101.9,1005.8 1102.4,1004.9 1102.9,1007.7 1103.4,1003.2 1103.9,1005.1 1104.4,1005.5 1104.9,1005.3 1105.4,1006.6 1105.9,1002.7 1106.4,1003.2 1106.9,1004.0 1107.4,1003.8 1107.9,1003.0 1108.4,1002.2 1108.9,1004.2 1109.4,1001.4 1109.9,1001.7 1110.4,1003.9 1110.9,1004.0 1111.4,1002.7 1111.9,1000.2 1112.4,999.9 1112.9,999.6 1113.4,999.0 1113.9,999.6 1114.4,1001.4 1114.9,999.7 1115.4,998.2 1115.9,997.8 1116.4,997.0 1116.9,999.7 1117.4,995.2 1117.9,997.8 1118.4,995.2 1118.9,995.3 1119.4,994.3 1119.9,997.0 1120.4,995.2 1120.9,998.4 1121.4,993.0 1121.9,992.4 1122.4,994.0 1122.9,993.4 1123.4,991.7 1123.9,988.9 1124.4,992.9 1124.9,991.1 1125.4,990.2 1125.9,988.3 1126.4,989.3 1126.9,987.1 1127.4,987.3 1127.9,986.3 1128.4,987.7 1128.9,984.6 1129.4,984.2 1129.9,985.6 1130.4,983.7 1130.9,982.8 1131.4,981.8 1131.9,982.9 1132.4,980.1 1132.9,981.1 1133.4,982.7 1133.9,979.8 1134.4,977.5 1134.9,976.3 1135.4,977.6 1135.9,975.0 1136.4,973.8 1136.9,974.4 1137.4,973.3 1137.9,975.5 1138.4,971.5 1138.9,975.3 1139.4,971.3 1139.9,971.9 1140.4,972.2 1140.9,970.9 1141.4,971.1 1141.9,968.0 1142.4,965.6 1142.9,968.1 1143.4,965.4 1143.9,966.6 1144.4,968.4 1144.9,966.3 1145.4,965.2 1145.9,963.9 1146.4,964.7 1146.9,964.4 1147.4,961.7 1147.9,964.1 1148.4,961.5 1148.9,963.1 1149.4,961.6 1149.9,963.3 1150.4,962.7 1150.9,961.0 1151.4,960.4 1151.9,960.8 1152.4,961.9 1152.9,961.1 1153.4,959.4 1153.9,959.4 1154.4,961.1 1154.9,955.9 1155.4,959.1 1155.9,956.7 1156.4,960.1 1156.9,957.2 1157.4,957.8 1157.9,956.2 1158.4,958.0 1158.9,959.3 1159.4,960.8 1159.9,956.3 1160.4,957.7 1160.9,964.7 1161.4,960.3 1161.9,959.0 1162.4,960.0 1162.9,955.3 1163.4,962.2 1163.9,960.2 1164.4,958.0 1164.9,962.3 1165.4,959.8 1165.9,959.4 1166.4,962.1 1166.9,962.3 1167.4,961.2 1167.9,962.1 1168.4,960.5 1168.9,960.7 1169.4,964.6 1169.9,965.7 1170.4,964.8 1170.9,965.2 1171.4,964.6 1171.9,965.6 1172.4,965.0 1172.9,969.8 1173.4,967.0 1173.9,969.1 1174.4,969.3 1174.9,967.9 1175.4,973.6 1175.9,971.0 1176.4,971.2 1176.9,973.3 1177.4,972.6 1177.9,974.8 1178.4,974.1 1178.9,977.1 1179.4,977.2 1179.9,975.9 1180.4,980.1 1180.9,979.6 1181.4,978.5 1181.9,981.2 1182.4,982.0 1182.9,984.7 1183.4,981.6 1183.9,984.7 1184.4,984.1 1184.9,985.8 1185.4,985.3 1185.9,986.3 1186.4,987.7 1186.9,986.2 1187.4,985.6 1187.9,989.2 1188.4,989.3 1188.9,990.7 1189.4,992.1 1189.9,991.6 1190.4,994.1 1190.9,993.1 1191.4,993.9 1191.9,995.5 1192.4,995.7 1192.9,995.4 1193.4,996.2 1193.9,995.6 1194.4,996.4 1194.9,997.8 1195.4,999.3 1195.9,998.3 1196.4,1000.5 1196.9,1002.4 1197.4,1003.2 1197.9,1001.1 1198.4,1002.9 1198.9,1002.9 1199.4,1003.7 1199.9,1004.3 1200.4,1004.4 1200.9,1005.3 1201.4,1005.0 1201.9,1004.9 1202.4,1006.0 1202.9,1006.7 1203.4,1008.0 1203.9,1007.3 1204.4,1008.1 1204.9,1009.3 1205.4,1006.8 1205.9,1007.8 1206.4,1009.0 1206.9,1008.6 1207.4,1007.6 1207.9,1010.1 1208.4,1008.9 1208.9,1007.9 1209.4,1011.4 1209.9,1007.8 1210.4,1009.3 1210.9,1008.7 1211.4,1009.7 1211.9,1010.3 1212.4,1008.8 1212.9,1009.7 1213.4,1009.7 1213.9,1008.8 1214.4,1011.4 1214.9,1010.3 1215.4,1009.8 1215.9,1009.5 1216.4,1009.9 1216.9,1010.5 1217.4,1009.9 1217.9,1012.0 1218.4,1007.6 1218.9,1008.2 1219.4,1010.4 1219.9,1008.6 1220.4,1010.7 1220.9,1010.1 1221.4,1011.6 1221.9,1011.5 1222.4,1012.6 1222.9,1012.2 1223.4,1012.6 1223.9,1011.8 1224.4,1012.5 1224.9,1011.9 1225.4,1010.7 1225.9,1010.0 1226.4,1010.1 1226.9,1012.1 1227.4,1008.8 1227.9,1011.8 1228.4,1010.8 1228.9,1012.5 1229.4,1012.0 1229.9,1010.9 1230.4,1011.8 1230.9,1009.3 1231.4,1012.2 1231.9,1012.5 1232.4,1009.9 1232.9,1013.0 1233.4,1011.9 1233.9,1012.3 1234.4,1010.5 1234.9,1012.8 1235.4,1012.8 1235.9,1012.2 1236.4,1011.1 1236.9,1013.1 1237.4,1013.7 1237.9,1012.8 1238.4,1013.5 1238.9,1011.7 1239.4,1012.6 1239.9,1012.8 1240.4,1012.6 1240.9,1015.7 1241.4,1013.0 1241.9,1011.9 1242.4,1013.5 1242.9,1011.3 1243.4,1013.0 1243.9,1013.5 1244.4,1012.1 1244.9,1012.3 1245.4,1011.6 1245.9,1012.8 1246.4,1011.9 1246.9,1014.7 1247.4,1013.5 1247.9,1012.5 1248.4,1011.2 1248.9,1015.1 1249.4,1014.3 1249.9,1013.4 1250.4,1013.1 1250.9,1013.0 1251.4,1012.3 1251.9,1015.0 1252.4,1013.1 1252.9,1011.3 1253.4,1012.2 1253.9,1010.0 1254.4,1013.7 1254.9,1013.8 1255.4,1015.0 1255.9,1015.4 1256.4,1012.1 1256.9,1013.5 1257.4,1014.1 1257.9,1013.9 1258.4,1012.5 1258.9,1014.0 1259.4,1013.6 1259.9,1014.6 1260.4,1013.1 1260.9,1012.8 1261.4,1012.5 1261.9,1012.7 1262.4,1012.3 1262.9,1012.8 1263.4,1013.7 1263.9,1013.7 1264.4,1014.7 1264.9,1014.4 1265.4,1013.9 1265.9,1011.9 1266.4,1013.9 1266.9,1014.5 1267.4,1011.8 1267.9,1012.0 1268.4,1012.2 1268.9,1012.1 1269.4,1012.9 1269.9,1012.2 1270.4,1013.7 1270.9,1011.9 1271.4,1013.2 1271.9,1012.7 1272.4,1012.2 1272.9,1014.5 1273.4,1013.4 1273.9,1014.0 1274.4,1013.0 1274.9,1014.1 1275.4,1014.1 1275.9,1013.2 1276.4,1011.4 1276.9,1014.3 1277.4,1014.2 1277.9,1013.6 1278.4,1013.7 1278.9,1013.6 1279.4,1013.7 1279.9,1012.3 1280.4,1013.4 1280.9,1013.8 1281.4,1012.8 1281.9,1012.4 1282.4,1015.6 1282.9,1014.2 1283.4,1013.2 1283.9,1013.0 1284.4,1010.6 1284.9,1011.9 1285.4,1013.2 1285.9,1015.0 1286.4,1011.2 1286.9,1012.8 1287.4,1015.7 1287.9,1014.3 1288.4,1014.0 1288.9,1014.9 1289.4,1013.4 1289.9,1013.4 1290.4,1014.4 1290.9,1014.5 1291.4,1012.4 1291.9,1015.3 1292.4,1011.7 1292.9,1012.8 1293.4,1017.1 1293.9,1013.0 1294.4,1014.4 1294.9,1012.5 1295.4,1013.3 1295.9,1012.8 1296.4,1013.2 1296.9,1014.4 1297.4,1015.6 1297.9,1014.6 1298.4,1015.4 1298.9,1013.1 1299.4,1015.3 1299.9,1014.3 1300.4,1015.2 1300.9,1013.2 1301.4,1013.4 1301.9,1015.2 1302.4,1014.3 1302.9,1013.8 1303.4,1012.9 1303.9,1013.5 1304.4,1014.2 1304.9,1014.5 1305.4,1013.0 1305.9,1013.3 1306.4,1014.1 1306.9,1012.4 1307.4,1014.7 1307.9,1013.6 1308.4,1013.5 1308.9,1010.9 1309.4,1011.8 1309.9,1012.4 1310.4,1012.9 1310.9,1012.3 1311.4,1014.0 1311.9,1013.7 1312.4,1013.2 1312.9,1011.2 1313.4,1015.1 1313.9,1013.2 1314.4,1014.1 1314.9,1012.7 1315.4,1013.4 1315.9,1014.2 1316.4,1013.7 1316.9,1014.5 1317.4,1013.2 1317.9,1015.6 1318.4,1011.2 1318.9,1012.7 1319.4,1014.4 1319.9,1013.0 1320.4,1012.7 1320.9,1011.2 1321.4,1014.5 1321.9,1011.0 1322.4,1013.7 1322.9,1013.3 1323.4,1014.1 1323.9,1014.7 1324.4,1012.2 1324.9,1012.1 1325.4,1012.6 1325.9,1011.0 1326.4,1013.8 1326.9,1012.4 1327.4,1013.0 1327.9,1011.5 1328.4,1012.8 1328.9,1012.0 1329.4,1012.6 1329.9,1011.4 1330.4,1013.8 1330.9,1011.9 1331.4,1009.7 1331.9,1013.2 1332.4,1012.1 1332.9,1011.4 1333.4,1015.2 1333.9,1012.3 1334.4,1010.8 1334.9,1011.6 1335.4,1012.7 1335.9,1012.0 1336.4,1013.6 1336.9,1013.3 1337.4,1011.2 1337.9,1012.1 1338.4,1012.7 1338.9,1011.5 1339.4,1011.4 1339.9,1012.9 1340.4,1012.4 1340.9,1010.2 1341.4,1011.1 1341.9,1011.3 1342.4,1011.5 1342.9,1010.8 1343.4,1013.1 1343.9,1010.5 1344.4,1010.3 1344.9,1011.7 1345.4,1008.9 1345.9,1010.2 1346.4,1012.1 1346.9,1009.8 1347.4,1010.3 1347.9,1012.5 1348.4,1011.7 1348.9,1011.2 1349.4,1011.4 1349.9,1010.3 1350.4,1011.4 1350.9,1010.7 1351.4,1013.8 1351.9,1011.5 1352.4,1010.5 1352.9,1010.7 1353.4,1010.8 1353.9,1009.1 1354.4,1009.7 1354.9,1012.4 1355.4,1009.0 1355.9,1009.9 1356.4,1011.7 1356.9,1012.2 1357.4,1009.2 1357.9,1012.1 1358.4,1009.9 1358.9,1012.2 1359.4,1010.8 1359.9,1009.8 1360.4,1011.0 1360.9,1010.7 1361.4,1009.1 1361.9,1012.4 1362.4,1009.5 1362.9,1011.2 1363.4,1009.2 1363.9,1007.6 1364.4,1008.3 1364.9,1009.5 1365.4,1010.3 1365.9,1011.5 1366.4,1009.4 1366.9,1008.9 1367.4,1007.7 1367.9,1009.0 1368.4,1009.3 1368.9,1006.3 1369.4,1010.3 1369.9,1010.0 1370.4,1011.3 1370.9,1007.4 1371.4,1008.4 1371.9,1008.1 1372.4,1006.4 1372.9,1006.7 1373.4,1006.3 1373.9,1007.9 1374.4,1007.5 1374.9,1008.4 1375.4,1006.0 1375.9,1004.6 1376.4,1006.5 1376.9,1006.1 1377.4,1006.2 1377.9,1006.6 1378.4,1004.1 1378.9,1005.5 1379.4,1003.0 1379.9,1004.2 1380.4,1004.6 1380.9,1003.3 1381.4,1003.5 1381.9,1001.3 1382.4,1002.0 1382.9,1002.7 1383.4,1000.8 1383.9,1001.0 1384.4,1004.9 1384.9,1002.0 1385.4,1000.4 1385.9,999.9 1386.4,1002.7 1386.9,997.3 1387.4,1000.1 1387.9,1001.1 1388.4,999.4 1388.9,1000.6 1389.4,998.4 1389.9,999.5 1390.4,999.3 1390.9,999.1 1391.4,999.1 1391.9,998.7 1392.4,999.9 1392.9,997.9 1393.4,997.3 1393.9,997.5 1394.4,997.2 1394.9,995.4 1395.4,994.7 1395.9,995.2 1396.4,997.0 1396.9,995.6 1397.4,995.7 1397.9,999.6 1398.4,997.1 1398.9,995.1 1399.4,994.3 1399.9,996.6 1400.4,993.6 1400.9,995.9 1401.4,994.8 1401.9,995.5 1402.4,992.4 1402.9,994.2 1403.4,990.3 1403.9,992.1 1404.4,993.4 1404.9,992.5 1405.4,988.8 1405.9,991.7 1406.4,991.0 1406.9,989.8 1407.4,988.5 1407.9,988.6 1408.4,987.7 1408.9,989.3 1409.4,988.1 1409.9,988.4 1410.4,987.4 1410.9,984.2 1411.4,985.6 1411.9,987.8 1412.4,982.8 1412.9,984.1 1413.4,982.1 1413.9,981.4 1414.4,982.3 1414.9,982.8 1415.4,982.0 1415.9,981.0 1416.4,981.1 1416.9,976.9 1417.4,979.8 1417.9,978.6 1418.4,977.2 1418.9,976.9 1419.4,975.1 1419.9,977.3 1420.4,973.9 1420.9,972.2 1421.4,973.6 1421.9,972.1 1422.4,972.1 1422.9,973.8 1423.4,970.6 1423.9,970.3 1424.4,972.7 1424.9,966.5 1425.4,968.5 1425.9,969.0 1426.4,968.8 1426.9,969.2 1427.4,964.1 1427.9,965.4 1428.4,963.7 1428.9,962.5 1429.4,961.5 1429.9,959.8 1430.4,962.0 1430.9,962.2 1431.4,958.9 1431.9,961.3 1432.4,958.8 1432.9,957.7 1433.4,954.7 1433.9,960.1 1434.4,959.1 1434.9,957.0 1435.4,956.5 1435.9,954.6 1436.4,957.1 1436.9,955.7 1437.4,956.3 1437.9,955.3 1438.4,952.4 1438.9,951.8 1439.4,954.6 1439.9,950.8 1440.4,953.6 1440.9,954.3 1441.4,950.5 1441.9,953.4 1442.4,952.1 1442.9,952.6 1443.4,950.5 1443.9,951.3 1444.4,951.9 1444.9,954.0 1445.4,952.1 1445.9,951.6 1446.4,948.6 1446.9,951.2 1447.4,949.6 1447.9,950.6 1448.4,951.2 1448.9,952.5 1449.4,952.1 1449.9,951.6 1450.4,951.4 1450.9,954.0 1451.4,950.7 1451.9,952.5 1452.4,955.0 1452.9,952.8 1453.4,954.9 1453.9,955.4 1454.4,957.6 1454.9,956.6 1455.4,952.6 1455.9,955.7 1456.4,956.6 1456.9,957.9 1457.4,957.7 1457.9,960.5 1458.4,959.7 1458.9,956.5 1459.4,957.9 1459.9,956.1 1460.4,962.5 1460.9,960.2 1461.4,960.7 1461.9,959.0 1462.4,961.4 1462.9,963.4 1463.4,962.7 1463.9,963.4 1464.4,963.7 1464.9,968.4 1465.4,965.2 1465.9,964.5 1466.4,966.7 1466.9,967.6 1467.4,968.7 1467.9,969.2 1468.4,968.6 1468.9,970.7 1469.4,972.3 1469.9,970.3 1470.4,976.0 1470.9,976.2 1471.4,971.7 1471.9,974.5 1472.4,977.1 1472.9,978.2 1473.4,979.5 1473.9,974.8 1474.4,976.5 1474.9,978.0 1475.4,980.2 1475.9,978.5 1476.4,981.3 1476.9,982.0 1477.4,983.0 1477.9,980.8 1478.4,983.5 1478.9,984.0 1479.4,983.9 1479.9,986.9 1480.4,985.3 1480.9,988.3 1481.4,986.1 1481.9,989.8 1482.4,990.3 1482.9,987.4 1483.4,989.5 1483.9,989.9 1484.4,988.7 1484.9,991.5 1485.4,991.7 1485.9,990.1 1486.4,991.8 1486.9,993.2 1487.4,992.2 1487.9,991.9 1488.4,995.4 1488.9,992.3 1489.4,994.4 1489.9,995.9 1490.4,995.8 1490.9,992.7 1491.4,995.1 1491.9,995.7 1492.4,996.0 1492.9,997.4 1493.4,997.6 1493.9,997.4 1494.4,997.9 1494.9,999.2 1495.4,999.8 1495.9,996.0 1496.4,1001.5 1496.9,998.2 1497.4,1000.1 1497.9,997.2 1498.4,998.8 1498.9,998.0 1499.4,1001.1 1499.9,1001.0 1500.4,999.9 1500.9,999.7 1501.4,1000.5 1501.9,998.8 1502.4,999.2 1502.9,999.0 1503.4,1000.9 1503.9,999.9 1504.4,998.2 1504.9,1000.2 1505.4,1000.3 1505.9,1001.4 1506.4,998.8 1506.9,1000.0 1507.4,1002.0 1507.9,998.8 1508.4,998.7 1508.9,999.7 1509.4,998.3 1509.9,998.8 1510.4,998.1 1510.9,997.6 1511.4,999.6 1511.9,997.9 1512.4,996.9 1512.9,997.7 1513.4,997.8 1513.9,998.2 1514.4,998.9 1514.9,999.9 1515.4,995.9 1515.9,997.0 1516.4,994.9 1516.9,997.4 1517.4,997.7 1517.9,996.1 1518.4,995.6 1518.9,995.4 1519.4,994.7 1519.9,997.4 1520.4,998.9 1520.9,994.9 1521.4,998.4 1521.9,996.1 1522.4,994.4 1522.9,996.9 1523.4,997.1 1523.9,996.6 1524.4,995.8 1524.9,998.3 1525.4,995.7 1525.9,996.9 1526.4,997.0 1526.9,994.9 1527.4,993.7 1527.9,993.9 1528.4,995.6 1528.9,996.6 1529.4,993.8 1529.9,995.2 1530.4,998.1 1530.9,993.8 1531.4,996.7 1531.9,996.5 1532.4,997.1 1532.9,994.2 1533.4,996.5 1533.9,994.3 1534.4,997.8 1534.9,995.0 1535.4,996.6 1535.9,995.0 1536.4,996.3 1536.9,994.1 1537.4,996.4 1537.9,996.9 1538.4,996.1 1538.9,998.2 1539.4,996.6 1539.9,997.1 1540.4,996.7 1540.9,998.5 1541.4,995.2 1541.9,995.7 1542.4,995.8 1542.9,996.9 1543.4,996.4 1543.9,997.2 1544.4,996.5 1544.9,995.5 1545.4,996.1 1545.9,996.9 1546.4,993.4 1546.9,998.3 1547.4,995.9 1547.9,996.3 1548.4,997.3 1548.9,996.8 1549.4,995.5 1549.9,997.3 1550.4,999.6 1550.9,999.4 1551.4,999.9 1551.9,997.9 1552.4,998.6 1552.9,1000.5 1553.4,1001.3 1553.9,999.7 1554.4,998.8 1554.9,997.8 1555.4,1002.4 1555.9,999.0 1556.4,1001.7 1556.9,1002.6 1557.4,1005.9 1557.9,1002.3 1558.4,1002.2 1558.9,1003.3 1559.4,1003.6 1559.9,1004.9 1560.4,1004.4 1560.9,1002.8 1561.4,1001.4 1561.9,1004.7 1562.4,1003.7 1562.9,1006.5 1563.4,1003.4 1563.9,1005.4 1564.4,1004.5 1564.9,1004.6 1565.4,1007.9 1565.9,1006.3 1566.4,1006.1 1566.9,1007.5 1567.4,1005.9 1567.9,1006.7 1568.4,1006.6 1568.9,1010.0 1569.4,1008.2 1569.9,1008.9 1570.4,1009.7 1570.9,1008.4 1571.4,1008.7 1571.9,1007.1 1572.4,1009.9 1572.9,1009.9 1573.4,1009.3 1573.9,1011.5 1574.4,1008.1 1574.9,1011.0 1575.4,1009.0 1575.9,1009.5 1576.4,1010.8 1576.9,1012.8 1577.4,1010.0 1577.9,1010.4 1578.4,1010.3 1578.9,1014.3 1579.4,1012.6 1579.9,1012.6 1580.4,1014.7 1580.9,1012.7 1581.4,1010.0 1581.9,1011.9 1582.4,1011.2 1582.9,1015.0 1583.4,1011.0 1583.9,1013.1 1584.4,1012.2 1584.9,1012.3 1585.4,1012.9 1585.9,1012.7 1586.4,1012.2 1586.9,1011.6 1587.4,1012.3 1587.9,1011.9 1588.4,1012.1 1588.9,1013.3 1589.4,1013.0 1589.9,1013.8 1590.4,1013.0 1590.9,1015.6 1591.4,1012.5 1591.9,1012.2 1592.4,1014.6 1592.9,1012.6 1593.4,1013.6 1593.9,1014.7 1594.4,1013.4 1594.9,1013.2 1595.4,1014.8 1595.9,1014.0 1596.4,1013.1 1596.9,1012.3 1597.4,1013.3 1597.9,1011.9 1598.4,1012.8 1598.9,1012.6 1599.4,1014.2 1599.9,1014.8 1600.4,1013.2 1600.9,1013.4 1601.4,1012.7 1601.9,1012.4 1602.4,1013.5 1602.9,1014.7 1603.4,1014.6 1603.9,1014.8 1604.4,1013.8 1604.9,1011.0 1605.4,1015.2 1605.9,1015.7 1606.4,1015.2 1606.9,1015.3 1607.4,1015.5 1607.9,1017.3 1608.4,1014.6 1608.9,1016.1 1609.4,1015.2 1609.9,1015.1 1610.4,1014.2 1610.9,1014.0 1611.4,1013.1 1611.9,1015.1 1612.4,1014.0 1612.9,1013.0 1613.4,1013.5 1613.9,1013.1 1614.4,1016.3 1614.9,1014.2 1615.4,1014.6 1615.9,1013.1 1616.4,1013.3 1616.9,1015.7 1617.4,1014.2 1617.9,1014.7 1618.4,1016.6 1618.9,1016.9 1619.4,1015.3 1619.9,1015.1 1620.4,1014.8 1620.9,1014.2" fill="none" stroke="#ff0000" stroke-width="2.3" stroke-linejoin="round"/>
<text transform="translate(185.71,256.20) scale(0.9932,1)" font-family="'Liberation Sans', Arial, sans-serif" font-weight="normal" fill="#0000ff" font-size="53.00" style="font-kerning:none" xml:space="preserve"><tspan font-size="53.00">TiO</tspan><tspan font-size="37.10">2 </tspan><tspan font-size="53.00">(101)</tspan></text>
<text transform="translate(499.78,190.50) scale(1.0050,1)" font-family="'Liberation Sans', Arial, sans-serif" font-weight="normal" fill="#0000ff" font-size="53.00" style="font-kerning:none" xml:space="preserve"><tspan font-size="53.00">Pt (111)</tspan></text>
<text transform="translate(661.48,334.40) scale(1.0061,1)" font-family="'Liberation Sans', Arial, sans-serif" font-weight="normal" fill="#0000ff" font-size="53.00" style="font-kerning:none" xml:space="preserve"><tspan font-size="53.00">Pt (200)</tspan></text>
<text transform="translate(784.61,404.40) scale(0.9907,1)" font-family="'Liberation Sans', Arial, sans-serif" font-weight="normal" fill="#0000ff" font-size="53.00" style="font-kerning:none" xml:space="preserve"><tspan font-size="53.00">TiO</tspan><tspan font-size="37.10">2 </tspan><tspan font-size="53.00">(105)</tspan></text>
<text transform="translate(1087.28,370.50) scale(1.0050,1)" font-family="'Liberation Sans', Arial, sans-serif" font-weight="normal" fill="#0000ff" font-size="53.00" style="font-kerning:none" xml:space="preserve"><tspan font-size="53.00">Pt (220)</tspan></text>
<text transform="translate(1373.69,378.30) scale(1.0033,1)" font-family="'Liberation Sans', Arial, sans-serif" font-weight="normal" fill="#0000ff" font-size="53.00" style="font-kerning:none" xml:space="preserve"><tspan font-size="53.00">Pt (311)</tspan></text>
<text transform="translate(181.70,523.90) scale(0.9975,1)" font-family="'Liberation Sans', Arial, sans-serif" font-weight="normal" fill="#ff8000" font-size="53.00" style="font-kerning:none" xml:space="preserve"><tspan font-size="53.00">TiO</tspan><tspan font-size="37.10">2 </tspan><tspan font-size="53.00">(101)</tspan></text>
<text transform="translate(492.00,640.50) scale(0.9991,1)" font-family="'Liberation Sans', Arial, sans-serif" font-weight="normal" fill="#ff8000" font-size="53.00" style="font-kerning:none" xml:space="preserve"><tspan font-size="53.00">(004)</tspan></text>
<text transform="translate(689.66,610.30) scale(1.0145,1)" font-family="'Liberation Sans', Arial, sans-serif" font-weight="normal" fill="#ff8000" font-size="53.00" style="font-kerning:none" xml:space="preserve"><tspan font-size="53.00">(200)</tspan></text>
<text transform="translate(763.16,659.40) scale(1.0120,1)" font-family="'Liberation Sans', Arial, sans-serif" font-weight="normal" fill="#ff8000" font-size="53.00" style="font-kerning:none" xml:space="preserve"><tspan font-size="53.00">(105)</tspan></text>
<text transform="translate(896.38,650.50) scale(1.0051,1)" font-family="'Liberation Sans', Arial, sans-serif" font-weight="normal" fill="#ff8000" font-size="53.00" style="font-kerning:none" xml:space="preserve"><tspan font-size="53.00">(211)</tspan></text>
<text transform="translate(1021.98,656.60) scale(1.0077,1)" font-family="'Liberation Sans', Arial, sans-serif" font-weight="normal" fill="#ff8000" font-size="53.00" style="font-kerning:none" xml:space="preserve"><tspan font-size="53.00">(118)</tspan></text>
<text transform="translate(1243.78,664.10) scale(1.0068,1)" font-family="'Liberation Sans', Arial, sans-serif" font-weight="normal" fill="#ff8000" font-size="53.00" style="font-kerning:none" xml:space="preserve"><tspan font-size="53.00">(215)</tspan></text>
<text transform="translate(497.68,762.50) scale(1.0039,1)" font-family="'Liberation Sans', Arial, sans-serif" font-weight="normal" fill="#ff0000" font-size="53.00" style="font-kerning:none" xml:space="preserve"><tspan font-size="53.00">Pt (111)</tspan></text>
<text transform="translate(310.59,947.00) scale(1.0047,1)" font-family="'Liberation Sans', Arial, sans-serif" font-weight="normal" fill="#ff0000" font-size="53.00" style="font-kerning:none" xml:space="preserve"><tspan font-size="53.00">C (002)</tspan></text>
<text transform="translate(682.26,858.70) scale(1.0137,1)" font-family="'Liberation Sans', Arial, sans-serif" font-weight="normal" fill="#ff0000" font-size="53.00" style="font-kerning:none" xml:space="preserve"><tspan font-size="53.00">(200)</tspan></text>
<text transform="translate(1109.98,923.10) scale(1.0068,1)" font-family="'Liberation Sans', Arial, sans-serif" font-weight="normal" fill="#ff0000" font-size="53.00" style="font-kerning:none" xml:space="preserve"><tspan font-size="53.00">(220)</tspan></text>
<text transform="translate(1387.28,923.70) scale(1.0068,1)" font-family="'Liberation Sans', Arial, sans-serif" font-weight="normal" fill="#ff0000" font-size="53.00" style="font-kerning:none" xml:space="preserve"><tspan font-size="53.00">(311)</tspan></text>
<text transform="translate(1210.47,89.80) scale(1.0259,1)" font-family="'Liberation Serif', 'Times New Roman', serif" font-weight="bold" fill="#000" font-size="52.00" style="font-kerning:none" xml:space="preserve"><tspan font-size="52.00">Pt-TiO</tspan><tspan font-size="31.72" dy="21.4">2</tspan><tspan font-size="52.00" dy="-21.4">-SP</tspan></text>
<text transform="translate(1209.27,175.40) scale(1.0282,1)" font-family="'Liberation Serif', 'Times New Roman', serif" font-weight="bold" fill="#000" font-size="52.00" style="font-kerning:none" xml:space="preserve"><tspan font-size="52.00">TiO</tspan><tspan font-size="31.72" dy="21.4">2</tspan><tspan font-size="52.00" dy="-21.4">-SP</tspan></text>
<text transform="translate(1207.18,261.00) scale(1.0399,1)" font-family="'Liberation Serif', 'Times New Roman', serif" font-weight="bold" fill="#000" font-size="52.00" style="font-kerning:none" xml:space="preserve"><tspan font-size="52.00">Commercial Pt/C</tspan></text>
<text transform="translate(143.10,1168.60) scale(1.0150,1)" font-family="'Liberation Serif', 'Times New Roman', serif" font-weight="normal" fill="#000" font-size="67.00" style="font-kerning:none" xml:space="preserve"><tspan font-size="67.00">20</tspan></text>
<text transform="translate(349.55,1168.60) scale(1.0150,1)" font-family="'Liberation Serif', 'Times New Roman', serif" font-weight="normal" fill="#000" font-size="67.00" style="font-kerning:none" xml:space="preserve"><tspan font-size="67.00">30</tspan></text>
<text transform="translate(557.01,1168.60) scale(1.0150,1)" font-family="'Liberation Serif', 'Times New Roman', serif" font-weight="normal" fill="#000" font-size="67.00" style="font-kerning:none" xml:space="preserve"><tspan font-size="67.00">40</tspan></text>
<text transform="translate(761.94,1168.60) scale(1.0150,1)" font-family="'Liberation Serif', 'Times New Roman', serif" font-weight="normal" fill="#000" font-size="67.00" style="font-kerning:none" xml:space="preserve"><tspan font-size="67.00">50</tspan></text>
<text transform="translate(968.90,1168.60) scale(1.0150,1)" font-family="'Liberation Serif', 'Times New Roman', serif" font-weight="normal" fill="#000" font-size="67.00" style="font-kerning:none" xml:space="preserve"><tspan font-size="67.00">60</tspan></text>
<text transform="translate(1174.84,1168.60) scale(1.0150,1)" font-family="'Liberation Serif', 'Times New Roman', serif" font-weight="normal" fill="#000" font-size="67.00" style="font-kerning:none" xml:space="preserve"><tspan font-size="67.00">70</tspan></text>
<text transform="translate(1381.80,1168.60) scale(1.0150,1)" font-family="'Liberation Serif', 'Times New Roman', serif" font-weight="normal" fill="#000" font-size="67.00" style="font-kerning:none" xml:space="preserve"><tspan font-size="67.00">80</tspan></text>
<text transform="translate(1588.76,1168.60) scale(1.0150,1)" font-family="'Liberation Serif', 'Times New Roman', serif" font-weight="normal" fill="#000" font-size="67.00" style="font-kerning:none" xml:space="preserve"><tspan font-size="67.00">90</tspan></text>
<text transform="translate(673.01,1260.00) scale(1.0714,1)" font-family="'Liberation Serif', 'Times New Roman', serif" font-weight="normal" fill="#000" font-size="87.00" style="font-kerning:none" xml:space="preserve"><tspan font-size="87.00">2</tspan></text>
<text transform="translate(724.96,1260.00) scale(1.2848,1)" font-family="'Liberation Serif', 'Times New Roman', serif" font-weight="normal" fill="#000" font-size="79.00" style="font-kerning:none" xml:space="preserve"><tspan font-size="79.00" style="font-style:italic">θ</tspan></text>
<text transform="translate(785.21,1260.00) scale(1.0473,1)" font-family="'Liberation Serif', 'Times New Roman', serif" font-weight="normal" fill="#000" font-size="86.00" style="font-kerning:none" xml:space="preserve"><tspan font-size="86.00">(degree)</tspan></text>
<text transform="translate(91,854.3) rotate(-90)" font-family="'Liberation Serif', 'Times New Roman', serif" font-size="90" fill="#000">Intensity (a.u.)</text>
<line x1="1073.3" y1="72.2" x2="1195.4" y2="72.2" stroke="#3c3cff" stroke-width="2.6"/>
<line x1="1073.3" y1="157.4" x2="1195.4" y2="157.4" stroke="#ffa850" stroke-width="2.6"/>
<line x1="1073.3" y1="242.7" x2="1195.4" y2="242.7" stroke="#ff3c3c" stroke-width="2.6"/>
<line x1="287.2" y1="41.0" x2="287.2" y2="1088" stroke="#000" stroke-width="4.4" stroke-dasharray="19.5 18.37"/>
<line x1="302.8" y1="39.5" x2="302.8" y2="1088" stroke="#000" stroke-width="4.4" stroke-dasharray="19.5 18.37"/>
<line x1="589.4" y1="38.1" x2="589.4" y2="1088" stroke="#000" stroke-width="4.4" stroke-dasharray="19.5 18.37"/>
<line x1="280.6" y1="1083.5" x2="280.6" y2="1093" stroke="#000" stroke-width="7" stroke-linecap="round"/>
<line x1="383.9" y1="1072.5" x2="383.9" y2="1093" stroke="#000" stroke-width="7" stroke-linecap="round"/>
<line x1="487.1" y1="1083.5" x2="487.1" y2="1093" stroke="#000" stroke-width="7" stroke-linecap="round"/>
<line x1="590.3" y1="1072.5" x2="590.3" y2="1093" stroke="#000" stroke-width="7" stroke-linecap="round"/>
<line x1="693.5" y1="1083.5" x2="693.5" y2="1093" stroke="#000" stroke-width="7" stroke-linecap="round"/>
<line x1="796.8" y1="1072.5" x2="796.8" y2="1093" stroke="#000" stroke-width="7" stroke-linecap="round"/>
<line x1="900.0" y1="1083.5" x2="900.0" y2="1093" stroke="#000" stroke-width="7" stroke-linecap="round"/>
<line x1="1003.2" y1="1072.5" x2="1003.2" y2="1093" stroke="#000" stroke-width="7" stroke-linecap="round"/>
<line x1="1106.4" y1="1083.5" x2="1106.4" y2="1093" stroke="#000" stroke-width="7" stroke-linecap="round"/>
<line x1="1209.7" y1="1072.5" x2="1209.7" y2="1093" stroke="#000" stroke-width="7" stroke-linecap="round"/>
<line x1="1312.9" y1="1083.5" x2="1312.9" y2="1093" stroke="#000" stroke-width="7" stroke-linecap="round"/>
<line x1="1416.1" y1="1072.5" x2="1416.1" y2="1093" stroke="#000" stroke-width="7" stroke-linecap="round"/>
<line x1="1519.3" y1="1083.5" x2="1519.3" y2="1093" stroke="#000" stroke-width="7" stroke-linecap="round"/>
<rect x="177.3" y="29" width="1445.7" height="1064.3" fill="none" stroke="#000" stroke-width="8.5" stroke-linejoin="round"/>
</svg>
</body></html>
